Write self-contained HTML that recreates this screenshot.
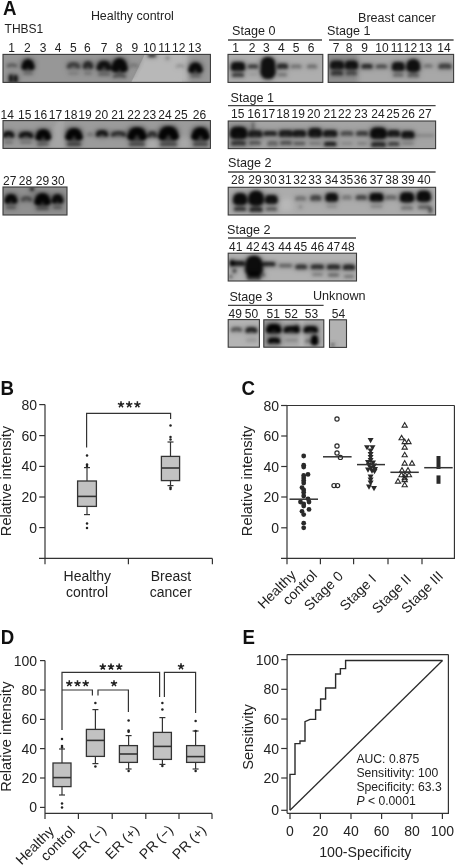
<!DOCTYPE html>
<html><head><meta charset="utf-8"><style>
html,body{margin:0;padding:0;background:#fff;width:455px;height:866px;overflow:hidden}
svg{display:block;font-family:"Liberation Sans",sans-serif;will-change:transform}
</style></head><body>
<svg width="455" height="866" viewBox="0 0 455 866">
<defs><filter id="blur" x="-50%" y="-50%" width="200%" height="200%"><feGaussianBlur stdDeviation="1.45"/></filter><filter id="blur2" x="-50%" y="-50%" width="200%" height="200%"><feGaussianBlur stdDeviation="2.5"/></filter><clipPath id="c1"><rect x="3" y="54.4" width="207.4" height="28.000000000000007"/></clipPath><clipPath id="c2"><rect x="3" y="120.6" width="207.4" height="27.80000000000001"/></clipPath><clipPath id="c3"><rect x="3" y="187" width="64" height="28"/></clipPath><clipPath id="c4"><rect x="228" y="54.4" width="94.80000000000001" height="28.000000000000007"/></clipPath><clipPath id="c5"><rect x="328.2" y="54.4" width="125.40000000000003" height="28.000000000000007"/></clipPath><clipPath id="c6"><rect x="228.2" y="121" width="207.40000000000003" height="27.599999999999994"/></clipPath><clipPath id="c7"><rect x="228.2" y="187.3" width="207.40000000000003" height="27.69999999999999"/></clipPath><clipPath id="c8"><rect x="228.2" y="253.2" width="128.3" height="27.80000000000001"/></clipPath><clipPath id="c9"><rect x="228.2" y="319.6" width="31.19999999999999" height="27.599999999999966"/></clipPath><clipPath id="c10"><rect x="263.8" y="319.8" width="60.0" height="27.399999999999977"/></clipPath><clipPath id="c11"><rect x="329.5" y="319.8" width="17.0" height="27.599999999999966"/></clipPath></defs>
<rect width="455" height="866" fill="#fff"/>
<text x="0" y="0" font-size="21" font-weight="bold" fill="#111" transform="translate(2.9 14.5) scale(0.89 1)">A</text>
<text x="90.9" y="20" font-size="12.45" text-anchor="start" font-weight="normal" font-style="normal" fill="#222" >Healthy control</text>
<text x="4.6" y="32.7" font-size="12" text-anchor="start" font-weight="normal" font-style="normal" fill="#222" >THBS1</text>
<text x="358" y="22" font-size="12.6" text-anchor="start" font-weight="normal" font-style="normal" fill="#222" >Breast cancer</text>
<text x="232" y="35.3" font-size="12.6" text-anchor="start" font-weight="normal" font-style="normal" fill="#222" >Stage 0</text>
<text x="327" y="35.3" font-size="12.6" text-anchor="start" font-weight="normal" font-style="normal" fill="#222" >Stage 1</text>
<text x="230.6" y="101.5" font-size="12.6" text-anchor="start" font-weight="normal" font-style="normal" fill="#222" >Stage 1</text>
<text x="228" y="167.3" font-size="12.6" text-anchor="start" font-weight="normal" font-style="normal" fill="#222" >Stage 2</text>
<text x="227" y="233.5" font-size="12.6" text-anchor="start" font-weight="normal" font-style="normal" fill="#222" >Stage 2</text>
<text x="229.4" y="300.5" font-size="12.6" text-anchor="start" font-weight="normal" font-style="normal" fill="#222" >Stage 3</text>
<text x="313" y="299.9" font-size="12.6" text-anchor="start" font-weight="normal" font-style="normal" fill="#222" >Unknown</text>
<line x1="228" y1="40" x2="322" y2="40" stroke="#444" stroke-width="1.3"/>
<line x1="329" y1="40" x2="453.6" y2="40" stroke="#444" stroke-width="1.3"/>
<line x1="228" y1="105.6" x2="435.6" y2="105.6" stroke="#444" stroke-width="1.3"/>
<line x1="228" y1="172" x2="435.6" y2="172" stroke="#444" stroke-width="1.3"/>
<line x1="228" y1="238" x2="356" y2="238" stroke="#444" stroke-width="1.3"/>
<line x1="228" y1="305.4" x2="323.6" y2="305.4" stroke="#444" stroke-width="1.3"/>
<text x="11.5" y="52.4" font-size="12" text-anchor="middle" font-weight="normal" font-style="normal" fill="#222" >1</text>
<text x="27.4" y="52.4" font-size="12" text-anchor="middle" font-weight="normal" font-style="normal" fill="#222" >2</text>
<text x="43.2" y="52.4" font-size="12" text-anchor="middle" font-weight="normal" font-style="normal" fill="#222" >3</text>
<text x="58" y="52.4" font-size="12" text-anchor="middle" font-weight="normal" font-style="normal" fill="#222" >4</text>
<text x="73.4" y="52.4" font-size="12" text-anchor="middle" font-weight="normal" font-style="normal" fill="#222" >5</text>
<text x="87.4" y="52.4" font-size="12" text-anchor="middle" font-weight="normal" font-style="normal" fill="#222" >6</text>
<text x="104" y="52.4" font-size="12" text-anchor="middle" font-weight="normal" font-style="normal" fill="#222" >7</text>
<text x="119.2" y="52.4" font-size="12" text-anchor="middle" font-weight="normal" font-style="normal" fill="#222" >8</text>
<text x="134.8" y="52.4" font-size="12" text-anchor="middle" font-weight="normal" font-style="normal" fill="#222" >9</text>
<text x="149.6" y="52.4" font-size="12" text-anchor="middle" font-weight="normal" font-style="normal" fill="#222" >10</text>
<text x="164.5" y="52.4" font-size="12" text-anchor="middle" font-weight="normal" font-style="normal" fill="#222" >11</text>
<text x="178.7" y="52.4" font-size="12" text-anchor="middle" font-weight="normal" font-style="normal" fill="#222" >12</text>
<text x="194.7" y="52.4" font-size="12" text-anchor="middle" font-weight="normal" font-style="normal" fill="#222" >13</text>
<text x="7.3" y="118.80000000000001" font-size="12" text-anchor="middle" font-weight="normal" font-style="normal" fill="#222" >14</text>
<text x="24.7" y="118.80000000000001" font-size="12" text-anchor="middle" font-weight="normal" font-style="normal" fill="#222" >15</text>
<text x="40.4" y="118.80000000000001" font-size="12" text-anchor="middle" font-weight="normal" font-style="normal" fill="#222" >16</text>
<text x="55.5" y="118.80000000000001" font-size="12" text-anchor="middle" font-weight="normal" font-style="normal" fill="#222" >17</text>
<text x="70.7" y="118.80000000000001" font-size="12" text-anchor="middle" font-weight="normal" font-style="normal" fill="#222" >18</text>
<text x="85" y="118.80000000000001" font-size="12" text-anchor="middle" font-weight="normal" font-style="normal" fill="#222" >19</text>
<text x="101.5" y="118.80000000000001" font-size="12" text-anchor="middle" font-weight="normal" font-style="normal" fill="#222" >20</text>
<text x="118" y="118.80000000000001" font-size="12" text-anchor="middle" font-weight="normal" font-style="normal" fill="#222" >21</text>
<text x="134" y="118.80000000000001" font-size="12" text-anchor="middle" font-weight="normal" font-style="normal" fill="#222" >22</text>
<text x="149.5" y="118.80000000000001" font-size="12" text-anchor="middle" font-weight="normal" font-style="normal" fill="#222" >23</text>
<text x="165" y="118.80000000000001" font-size="12" text-anchor="middle" font-weight="normal" font-style="normal" fill="#222" >24</text>
<text x="181" y="118.80000000000001" font-size="12" text-anchor="middle" font-weight="normal" font-style="normal" fill="#222" >25</text>
<text x="199.5" y="118.80000000000001" font-size="12" text-anchor="middle" font-weight="normal" font-style="normal" fill="#222" >26</text>
<text x="9.8" y="185.0" font-size="12" text-anchor="middle" font-weight="normal" font-style="normal" fill="#222" >27</text>
<text x="25.5" y="185.0" font-size="12" text-anchor="middle" font-weight="normal" font-style="normal" fill="#222" >28</text>
<text x="42.5" y="185.0" font-size="12" text-anchor="middle" font-weight="normal" font-style="normal" fill="#222" >29</text>
<text x="58" y="185.0" font-size="12" text-anchor="middle" font-weight="normal" font-style="normal" fill="#222" >30</text>
<text x="235.5" y="52.0" font-size="12" text-anchor="middle" font-weight="normal" font-style="normal" fill="#222" >1</text>
<text x="252" y="52.0" font-size="12" text-anchor="middle" font-weight="normal" font-style="normal" fill="#222" >2</text>
<text x="266.4" y="52.0" font-size="12" text-anchor="middle" font-weight="normal" font-style="normal" fill="#222" >3</text>
<text x="281.3" y="52.0" font-size="12" text-anchor="middle" font-weight="normal" font-style="normal" fill="#222" >4</text>
<text x="296.2" y="52.0" font-size="12" text-anchor="middle" font-weight="normal" font-style="normal" fill="#222" >5</text>
<text x="311" y="52.0" font-size="12" text-anchor="middle" font-weight="normal" font-style="normal" fill="#222" >6</text>
<text x="336" y="52.0" font-size="12" text-anchor="middle" font-weight="normal" font-style="normal" fill="#222" >7</text>
<text x="349.2" y="52.0" font-size="12" text-anchor="middle" font-weight="normal" font-style="normal" fill="#222" >8</text>
<text x="364.5" y="52.0" font-size="12" text-anchor="middle" font-weight="normal" font-style="normal" fill="#222" >9</text>
<text x="382" y="52.0" font-size="12" text-anchor="middle" font-weight="normal" font-style="normal" fill="#222" >10</text>
<text x="397" y="52.0" font-size="12" text-anchor="middle" font-weight="normal" font-style="normal" fill="#222" >11</text>
<text x="410.5" y="52.0" font-size="12" text-anchor="middle" font-weight="normal" font-style="normal" fill="#222" >12</text>
<text x="425.5" y="52.0" font-size="12" text-anchor="middle" font-weight="normal" font-style="normal" fill="#222" >13</text>
<text x="444" y="52.0" font-size="12" text-anchor="middle" font-weight="normal" font-style="normal" fill="#222" >14</text>
<text x="237.8" y="117.80000000000001" font-size="12" text-anchor="middle" font-weight="normal" font-style="normal" fill="#222" >15</text>
<text x="254" y="117.80000000000001" font-size="12" text-anchor="middle" font-weight="normal" font-style="normal" fill="#222" >16</text>
<text x="268.5" y="117.80000000000001" font-size="12" text-anchor="middle" font-weight="normal" font-style="normal" fill="#222" >17</text>
<text x="283" y="117.80000000000001" font-size="12" text-anchor="middle" font-weight="normal" font-style="normal" fill="#222" >18</text>
<text x="298.3" y="117.80000000000001" font-size="12" text-anchor="middle" font-weight="normal" font-style="normal" fill="#222" >19</text>
<text x="313.8" y="117.80000000000001" font-size="12" text-anchor="middle" font-weight="normal" font-style="normal" fill="#222" >20</text>
<text x="330.3" y="117.80000000000001" font-size="12" text-anchor="middle" font-weight="normal" font-style="normal" fill="#222" >21</text>
<text x="344.8" y="117.80000000000001" font-size="12" text-anchor="middle" font-weight="normal" font-style="normal" fill="#222" >22</text>
<text x="361" y="117.80000000000001" font-size="12" text-anchor="middle" font-weight="normal" font-style="normal" fill="#222" >23</text>
<text x="378" y="117.80000000000001" font-size="12" text-anchor="middle" font-weight="normal" font-style="normal" fill="#222" >24</text>
<text x="393" y="117.80000000000001" font-size="12" text-anchor="middle" font-weight="normal" font-style="normal" fill="#222" >25</text>
<text x="408.3" y="117.80000000000001" font-size="12" text-anchor="middle" font-weight="normal" font-style="normal" fill="#222" >26</text>
<text x="425" y="117.80000000000001" font-size="12" text-anchor="middle" font-weight="normal" font-style="normal" fill="#222" >27</text>
<text x="237.8" y="184.4" font-size="12" text-anchor="middle" font-weight="normal" font-style="normal" fill="#222" >28</text>
<text x="255" y="184.4" font-size="12" text-anchor="middle" font-weight="normal" font-style="normal" fill="#222" >29</text>
<text x="270" y="184.4" font-size="12" text-anchor="middle" font-weight="normal" font-style="normal" fill="#222" >30</text>
<text x="285" y="184.4" font-size="12" text-anchor="middle" font-weight="normal" font-style="normal" fill="#222" >31</text>
<text x="300" y="184.4" font-size="12" text-anchor="middle" font-weight="normal" font-style="normal" fill="#222" >32</text>
<text x="315" y="184.4" font-size="12" text-anchor="middle" font-weight="normal" font-style="normal" fill="#222" >33</text>
<text x="331.5" y="184.4" font-size="12" text-anchor="middle" font-weight="normal" font-style="normal" fill="#222" >34</text>
<text x="346.5" y="184.4" font-size="12" text-anchor="middle" font-weight="normal" font-style="normal" fill="#222" >35</text>
<text x="360.5" y="184.4" font-size="12" text-anchor="middle" font-weight="normal" font-style="normal" fill="#222" >36</text>
<text x="376.5" y="184.4" font-size="12" text-anchor="middle" font-weight="normal" font-style="normal" fill="#222" >37</text>
<text x="392" y="184.4" font-size="12" text-anchor="middle" font-weight="normal" font-style="normal" fill="#222" >38</text>
<text x="408" y="184.4" font-size="12" text-anchor="middle" font-weight="normal" font-style="normal" fill="#222" >39</text>
<text x="424" y="184.4" font-size="12" text-anchor="middle" font-weight="normal" font-style="normal" fill="#222" >40</text>
<text x="235.7" y="251.4" font-size="12" text-anchor="middle" font-weight="normal" font-style="normal" fill="#222" >41</text>
<text x="253" y="251.4" font-size="12" text-anchor="middle" font-weight="normal" font-style="normal" fill="#222" >42</text>
<text x="268" y="251.4" font-size="12" text-anchor="middle" font-weight="normal" font-style="normal" fill="#222" >43</text>
<text x="285" y="251.4" font-size="12" text-anchor="middle" font-weight="normal" font-style="normal" fill="#222" >44</text>
<text x="300.5" y="251.4" font-size="12" text-anchor="middle" font-weight="normal" font-style="normal" fill="#222" >45</text>
<text x="317.5" y="251.4" font-size="12" text-anchor="middle" font-weight="normal" font-style="normal" fill="#222" >46</text>
<text x="333.5" y="251.4" font-size="12" text-anchor="middle" font-weight="normal" font-style="normal" fill="#222" >47</text>
<text x="348" y="251.4" font-size="12" text-anchor="middle" font-weight="normal" font-style="normal" fill="#222" >48</text>
<text x="235.3" y="318.0" font-size="12" text-anchor="middle" font-weight="normal" font-style="normal" fill="#222" >49</text>
<text x="251.5" y="318.0" font-size="12" text-anchor="middle" font-weight="normal" font-style="normal" fill="#222" >50</text>
<text x="273.2" y="318.0" font-size="12" text-anchor="middle" font-weight="normal" font-style="normal" fill="#222" >51</text>
<text x="291.3" y="318.0" font-size="12" text-anchor="middle" font-weight="normal" font-style="normal" fill="#222" >52</text>
<text x="311.5" y="318.0" font-size="12" text-anchor="middle" font-weight="normal" font-style="normal" fill="#222" >53</text>
<text x="338.5" y="318.0" font-size="12" text-anchor="middle" font-weight="normal" font-style="normal" fill="#222" >54</text>
<rect x="3" y="54.4" width="207.4" height="28.000000000000007" fill="#979797"/>
<g clip-path="url(#c1)">
<polygon points="131,83 145.5,53 182,53 182,83" fill="#b8b8b8"/><rect x="178" y="53" width="10" height="30" fill="#b8b8b8" filter="url(#blur2)"/><line x1="133" y1="78" x2="143" y2="58" stroke="#888" stroke-width="2" opacity="0.5" filter="url(#blur)"/>
<g filter="url(#blur2)">
<rect x="5.2" y="62.2" width="13.6" height="6.5" rx="2.9" fill="#000" opacity="0.10"/>
<rect x="7.4" y="73.2" width="7.0" height="10.5" rx="3.1" fill="#000" opacity="0.30"/>
<rect x="12.2" y="73.7" width="7.0" height="10.0" rx="3.1" fill="#000" opacity="0.30"/>
<rect x="20.2" y="57.7" width="15.6" height="14.0" rx="6.3" fill="#000" opacity="0.30"/>
<rect x="21.2" y="70.7" width="13.6" height="5.5" rx="2.5" fill="#000" opacity="0.07"/>
<rect x="65.2" y="60.7" width="16.6" height="9.5" rx="4.3" fill="#000" opacity="0.15"/>
<rect x="66.2" y="70.7" width="14.6" height="5.5" rx="2.5" fill="#000" opacity="0.04"/>
<rect x="81.2" y="59.7" width="13.6" height="11.0" rx="5.0" fill="#000" opacity="0.19"/>
<rect x="82.2" y="70.7" width="11.6" height="5.5" rx="2.5" fill="#000" opacity="0.06"/>
<rect x="95.2" y="59.2" width="17.6" height="13.0" rx="5.9" fill="#000" opacity="0.27"/>
<rect x="96.2" y="71.2" width="15.6" height="6.0" rx="2.7" fill="#000" opacity="0.09"/>
<rect x="110.2" y="56.7" width="18.6" height="17.5" rx="7.9" fill="#000" opacity="0.30"/>
<rect x="111.2" y="72.7" width="16.6" height="6.5" rx="2.9" fill="#000" opacity="0.12"/>
<rect x="128.2" y="61.7" width="11.6" height="7.5" rx="3.4" fill="#000" opacity="0.04"/>
<rect x="146.2" y="52.7" width="11.6" height="5.5" rx="2.5" fill="#000" opacity="0.24"/>
<rect x="164.7" y="55.7" width="5.6" height="4.5" rx="2.0" fill="#000" opacity="0.18"/>
<rect x="174.2" y="62.7" width="11.6" height="6.5" rx="2.9" fill="#000" opacity="0.04"/>
<rect x="187.2" y="61.2" width="16.6" height="13.5" rx="6.1" fill="#000" opacity="0.30"/>
<rect x="188.2" y="73.2" width="14.6" height="5.5" rx="2.5" fill="#000" opacity="0.09"/>
</g>
<g filter="url(#blur)">
<rect x="7.0" y="63.5" width="10.0" height="4.0" rx="1.8" fill="#000" opacity="0.15"/>
<path d="M7.9,66.2 Q12.0,63.1 16.1,66.2" stroke="#000" stroke-width="2.2" fill="none" stroke-linecap="round" opacity="0.30"/>
<rect x="9.2" y="74.5" width="3.4" height="8.0" rx="1.5" fill="#000" opacity="0.85"/>
<rect x="14.0" y="75.0" width="3.4" height="7.5" rx="1.5" fill="#000" opacity="0.85"/>
<rect x="22.0" y="59.0" width="12.0" height="11.5" rx="5.2" fill="#000" opacity="0.42"/>
<path d="M24.5,66.8 Q28.0,57.9 31.5,66.8" stroke="#000" stroke-width="6.3" fill="none" stroke-linecap="round" opacity="0.85"/>
<rect x="23.0" y="72.0" width="10.0" height="3.0" rx="1.4" fill="#000" opacity="0.2125"/>
<rect x="67.0" y="62.0" width="13.0" height="7.0" rx="3.1" fill="#000" opacity="0.21"/>
<path d="M68.5,66.7 Q73.5,61.3 78.5,66.7" stroke="#000" stroke-width="3.9" fill="none" stroke-linecap="round" opacity="0.42"/>
<rect x="68.0" y="72.0" width="11.0" height="3.0" rx="1.4" fill="#000" opacity="0.1275"/>
<rect x="83.0" y="61.0" width="10.0" height="8.5" rx="3.8" fill="#000" opacity="0.28"/>
<path d="M84.9,66.7 Q88.0,60.1 91.1,66.7" stroke="#000" stroke-width="4.7" fill="none" stroke-linecap="round" opacity="0.55"/>
<rect x="84.0" y="72.0" width="8.0" height="3.0" rx="1.4" fill="#000" opacity="0.17"/>
<rect x="97.0" y="60.5" width="14.0" height="10.5" rx="4.7" fill="#000" opacity="0.38"/>
<path d="M99.3,67.6 Q104.0,59.5 108.7,67.6" stroke="#000" stroke-width="5.8" fill="none" stroke-linecap="round" opacity="0.77"/>
<rect x="98.0" y="72.5" width="12.0" height="3.5" rx="1.6" fill="#000" opacity="0.255"/>
<rect x="112.0" y="58.0" width="15.0" height="15.0" rx="6.8" fill="#000" opacity="0.42"/>
<path d="M115.3,68.1 Q119.5,56.5 123.7,68.1" stroke="#000" stroke-width="8.2" fill="none" stroke-linecap="round" opacity="0.85"/>
<rect x="113.0" y="74.0" width="13.0" height="4.0" rx="1.8" fill="#000" opacity="0.17"/>
<path d="M113.9,76.7 Q119.5,73.6 125.1,76.7" stroke="#000" stroke-width="2.2" fill="none" stroke-linecap="round" opacity="0.34"/>
<rect x="130.0" y="63.0" width="8.0" height="5.0" rx="2.2" fill="#000" opacity="0.06"/>
<path d="M131.1,66.4 Q134.0,62.5 136.9,66.4" stroke="#000" stroke-width="2.8" fill="none" stroke-linecap="round" opacity="0.13"/>
<rect x="148.0" y="54.0" width="8.0" height="3.0" rx="1.4" fill="#000" opacity="0.68"/>
<rect x="166.5" y="57.0" width="2.0" height="2.0" rx="0.9" fill="#000" opacity="0.51"/>
<rect x="176.0" y="64.0" width="8.0" height="4.0" rx="1.8" fill="#000" opacity="0.06"/>
<path d="M176.9,66.7 Q180.0,63.6 183.1,66.7" stroke="#000" stroke-width="2.2" fill="none" stroke-linecap="round" opacity="0.13"/>
<rect x="189.0" y="62.5" width="13.0" height="11.0" rx="5.0" fill="#000" opacity="0.42"/>
<path d="M191.4,69.9 Q195.5,61.4 199.6,69.9" stroke="#000" stroke-width="6.1" fill="none" stroke-linecap="round" opacity="0.85"/>
<rect x="190.0" y="74.5" width="11.0" height="3.0" rx="1.4" fill="#000" opacity="0.255"/>
</g></g>
<rect x="3" y="54.4" width="207.4" height="28.000000000000007" fill="none" stroke="#3a3a3a" stroke-width="1.1"/>
<rect x="3" y="120.6" width="207.4" height="27.80000000000001" fill="#9b9b9b"/>
<g clip-path="url(#c2)">
<polygon points="42,149 58,120 64,120 64,149" fill="#a6a6a6" filter="url(#blur)"/><rect x="146" y="138" width="12" height="12" fill="#acacac" filter="url(#blur2)"/><rect x="178" y="138" width="12" height="11" fill="#a8a8a8" filter="url(#blur2)"/>
<g filter="url(#blur2)">
<rect x="1.2" y="129.7" width="14.6" height="9.5" rx="4.3" fill="#000" opacity="0.27"/>
<rect x="17.2" y="130.2" width="17.6" height="9.5" rx="4.3" fill="#000" opacity="0.27"/>
<rect x="34.2" y="127.7" width="18.1" height="14.5" rx="6.5" fill="#000" opacity="0.32"/>
<rect x="64.2" y="126.7" width="19.6" height="15.5" rx="7.0" fill="#000" opacity="0.32"/>
<rect x="65.2" y="141.2" width="17.6" height="6.0" rx="2.7" fill="#000" opacity="0.18"/>
<rect x="85.2" y="130.7" width="9.6" height="7.5" rx="3.4" fill="#000" opacity="0.05"/>
<rect x="94.2" y="128.7" width="15.6" height="9.5" rx="4.3" fill="#000" opacity="0.26"/>
<rect x="109.2" y="129.7" width="18.6" height="8.5" rx="3.8" fill="#000" opacity="0.19"/>
<rect x="126.2" y="125.7" width="21.6" height="16.5" rx="7.4" fill="#000" opacity="0.32"/>
<rect x="127.2" y="141.2" width="19.6" height="6.0" rx="2.7" fill="#000" opacity="0.16"/>
<rect x="145.7" y="129.7" width="13.1" height="9.5" rx="4.3" fill="#000" opacity="0.18"/>
<rect x="157.2" y="124.7" width="22.6" height="17.5" rx="7.9" fill="#000" opacity="0.32"/>
<rect x="158.2" y="141.2" width="20.6" height="6.0" rx="2.7" fill="#000" opacity="0.16"/>
<rect x="190.2" y="125.7" width="20.6" height="16.5" rx="7.4" fill="#000" opacity="0.32"/>
<rect x="191.2" y="141.2" width="18.6" height="6.0" rx="2.7" fill="#000" opacity="0.16"/>
<rect x="2.2" y="139.7" width="12.6" height="5.5" rx="2.5" fill="#000" opacity="0.06"/>
<rect x="18.2" y="139.7" width="15.6" height="5.5" rx="2.5" fill="#000" opacity="0.06"/>
<rect x="35.2" y="141.2" width="15.6" height="6.0" rx="2.7" fill="#000" opacity="0.11"/>
</g>
<g filter="url(#blur)">
<rect x="3.0" y="131.0" width="11.0" height="7.0" rx="3.1" fill="#000" opacity="0.39"/>
<path d="M4.5,135.7 Q8.5,130.3 12.5,135.7" stroke="#000" stroke-width="3.9" fill="none" stroke-linecap="round" opacity="0.78"/>
<rect x="19.0" y="131.5" width="14.0" height="7.0" rx="3.1" fill="#000" opacity="0.39"/>
<path d="M20.5,136.2 Q26.0,130.8 31.5,136.2" stroke="#000" stroke-width="3.9" fill="none" stroke-linecap="round" opacity="0.78"/>
<rect x="36.0" y="129.0" width="14.5" height="12.0" rx="5.4" fill="#000" opacity="0.46"/>
<path d="M38.6,137.1 Q43.2,127.8 47.9,137.1" stroke="#000" stroke-width="6.6" fill="none" stroke-linecap="round" opacity="0.92"/>
<rect x="66.0" y="128.0" width="16.0" height="13.0" rx="5.9" fill="#000" opacity="0.46"/>
<path d="M68.9,136.8 Q74.0,126.7 79.1,136.8" stroke="#000" stroke-width="7.2" fill="none" stroke-linecap="round" opacity="0.92"/>
<rect x="67.0" y="142.5" width="14.0" height="3.5" rx="1.6" fill="#000" opacity="0.5060000000000001"/>
<rect x="87.0" y="132.0" width="6.0" height="5.0" rx="2.2" fill="#000" opacity="0.07"/>
<path d="M88.1,135.4 Q90.0,131.5 91.9,135.4" stroke="#000" stroke-width="2.8" fill="none" stroke-linecap="round" opacity="0.14"/>
<rect x="96.0" y="130.0" width="12.0" height="7.0" rx="3.1" fill="#000" opacity="0.37"/>
<path d="M97.5,134.7 Q102.0,129.3 106.5,134.7" stroke="#000" stroke-width="3.9" fill="none" stroke-linecap="round" opacity="0.74"/>
<rect x="111.0" y="131.0" width="15.0" height="6.0" rx="2.7" fill="#000" opacity="0.28"/>
<path d="M112.3,135.1 Q118.5,130.4 124.7,135.1" stroke="#000" stroke-width="3.3" fill="none" stroke-linecap="round" opacity="0.55"/>
<rect x="128.0" y="127.0" width="18.0" height="14.0" rx="6.3" fill="#000" opacity="0.46"/>
<path d="M131.1,136.4 Q137.0,125.6 142.9,136.4" stroke="#000" stroke-width="7.7" fill="none" stroke-linecap="round" opacity="0.92"/>
<rect x="129.0" y="142.5" width="16.0" height="3.5" rx="1.6" fill="#000" opacity="0.46"/>
<rect x="147.5" y="131.0" width="9.5" height="7.0" rx="3.1" fill="#000" opacity="0.25"/>
<path d="M149.0,135.7 Q152.2,130.3 155.5,135.7" stroke="#000" stroke-width="3.9" fill="none" stroke-linecap="round" opacity="0.51"/>
<rect x="159.0" y="126.0" width="19.0" height="15.0" rx="6.8" fill="#000" opacity="0.46"/>
<path d="M162.3,136.1 Q168.5,124.5 174.7,136.1" stroke="#000" stroke-width="8.2" fill="none" stroke-linecap="round" opacity="0.92"/>
<rect x="160.0" y="142.5" width="17.0" height="3.5" rx="1.6" fill="#000" opacity="0.46"/>
<rect x="192.0" y="127.0" width="17.0" height="14.0" rx="6.3" fill="#000" opacity="0.46"/>
<path d="M195.1,136.4 Q200.5,125.6 205.9,136.4" stroke="#000" stroke-width="7.7" fill="none" stroke-linecap="round" opacity="0.92"/>
<rect x="193.0" y="142.5" width="15.0" height="3.5" rx="1.6" fill="#000" opacity="0.46"/>
<rect x="4.0" y="141.0" width="9.0" height="3.0" rx="1.4" fill="#000" opacity="0.18400000000000002"/>
<rect x="20.0" y="141.0" width="12.0" height="3.0" rx="1.4" fill="#000" opacity="0.18400000000000002"/>
<rect x="37.0" y="142.5" width="12.0" height="3.5" rx="1.6" fill="#000" opacity="0.322"/>
</g></g>
<rect x="3" y="120.6" width="207.4" height="27.80000000000001" fill="none" stroke="#3a3a3a" stroke-width="1.1"/>
<rect x="3" y="187" width="64" height="28" fill="#909090"/>
<g clip-path="url(#c3)">
<g filter="url(#blur2)">
<rect x="3.2" y="192.7" width="15.6" height="12.5" rx="5.6" fill="#000" opacity="0.31"/>
<rect x="4.2" y="204.7" width="13.6" height="5.5" rx="2.5" fill="#000" opacity="0.11"/>
<rect x="19.2" y="194.7" width="14.6" height="8.5" rx="3.8" fill="#000" opacity="0.11"/>
<rect x="28.7" y="185.7" width="6.6" height="6.5" rx="2.9" fill="#000" opacity="0.29"/>
<rect x="33.2" y="191.7" width="18.6" height="15.5" rx="7.0" fill="#000" opacity="0.32"/>
<rect x="34.2" y="205.7" width="16.6" height="5.5" rx="2.5" fill="#000" opacity="0.13"/>
<rect x="50.2" y="192.7" width="14.6" height="12.5" rx="5.6" fill="#000" opacity="0.29"/>
<rect x="51.2" y="204.7" width="12.6" height="5.5" rx="2.5" fill="#000" opacity="0.11"/>
</g>
<g filter="url(#blur)">
<rect x="5.0" y="194.0" width="12.0" height="10.0" rx="4.5" fill="#000" opacity="0.48"/>
<path d="M7.2,200.8 Q11.0,193.0 14.8,200.8" stroke="#000" stroke-width="5.5" fill="none" stroke-linecap="round" opacity="0.87"/>
<rect x="6.0" y="206.0" width="10.0" height="3.0" rx="1.4" fill="#000" opacity="0.322"/>
<rect x="21.0" y="196.0" width="11.0" height="6.0" rx="2.7" fill="#000" opacity="0.18"/>
<path d="M22.3,200.1 Q26.5,195.4 30.7,200.1" stroke="#000" stroke-width="3.3" fill="none" stroke-linecap="round" opacity="0.32"/>
<rect x="30.5" y="187.0" width="3.0" height="4.0" rx="1.4" fill="#000" opacity="0.8280000000000001"/>
<rect x="35.0" y="193.0" width="15.0" height="13.0" rx="5.9" fill="#000" opacity="0.51"/>
<path d="M37.9,201.8 Q42.5,191.7 47.1,201.8" stroke="#000" stroke-width="7.2" fill="none" stroke-linecap="round" opacity="0.92"/>
<rect x="36.0" y="207.0" width="13.0" height="3.0" rx="1.4" fill="#000" opacity="0.36800000000000005"/>
<rect x="52.0" y="194.0" width="11.0" height="10.0" rx="4.5" fill="#000" opacity="0.46"/>
<path d="M54.2,200.8 Q57.5,193.0 60.8,200.8" stroke="#000" stroke-width="5.5" fill="none" stroke-linecap="round" opacity="0.83"/>
<rect x="53.0" y="206.0" width="9.0" height="3.0" rx="1.4" fill="#000" opacity="0.322"/>
</g></g>
<rect x="3" y="187" width="64" height="28" fill="none" stroke="#3a3a3a" stroke-width="1.1"/>
<rect x="228" y="54.4" width="94.80000000000001" height="28.000000000000007" fill="#aeaeae"/>
<g clip-path="url(#c4)">
<g filter="url(#blur2)">
<rect x="229.2" y="60.7" width="17.6" height="11.5" rx="5.2" fill="#000" opacity="0.31"/>
<rect x="230.2" y="71.7" width="15.6" height="6.5" rx="2.9" fill="#000" opacity="0.18"/>
<rect x="246.2" y="63.2" width="13.6" height="6.5" rx="2.9" fill="#000" opacity="0.20"/>
<rect x="247.2" y="71.7" width="11.6" height="5.5" rx="2.5" fill="#000" opacity="0.03"/>
<rect x="259.2" y="55.7" width="17.6" height="24.5" rx="7.9" fill="#000" opacity="0.31"/>
<rect x="275.2" y="62.2" width="14.6" height="8.0" rx="3.6" fill="#000" opacity="0.23"/>
<rect x="276.2" y="71.7" width="12.6" height="6.0" rx="2.7" fill="#000" opacity="0.09"/>
<rect x="289.2" y="63.2" width="14.1" height="6.5" rx="2.9" fill="#000" opacity="0.09"/>
<rect x="305.2" y="63.2" width="13.6" height="6.5" rx="2.9" fill="#000" opacity="0.09"/>
</g>
<g filter="url(#blur)">
<rect x="231.0" y="62.0" width="14.0" height="9.0" rx="4.0" fill="#000" opacity="0.79"/>
<path d="M233.0,68.1 Q238.0,61.1 243.0,68.1" stroke="#000" stroke-width="5.0" fill="none" stroke-linecap="round" opacity="0.40"/>
<rect x="232.0" y="73.0" width="12.0" height="4.0" rx="1.8" fill="#000" opacity="0.48"/>
<path d="M232.9,75.7 Q238.0,72.6 243.1,75.7" stroke="#000" stroke-width="2.2" fill="none" stroke-linecap="round" opacity="0.24"/>
<rect x="248.0" y="64.5" width="10.0" height="4.0" rx="1.8" fill="#000" opacity="0.51"/>
<path d="M248.9,67.2 Q253.0,64.1 257.1,67.2" stroke="#000" stroke-width="2.2" fill="none" stroke-linecap="round" opacity="0.26"/>
<rect x="249.0" y="73.0" width="8.0" height="3.0" rx="1.4" fill="#000" opacity="0.08800000000000001"/>
<rect x="261.0" y="57.0" width="14.0" height="22.0" rx="6.3" fill="#000" opacity="0.79"/>
<path d="M265.8,71.8 Q268.0,54.8 270.2,71.8" stroke="#000" stroke-width="12.1" fill="none" stroke-linecap="round" opacity="0.40"/>
<rect x="277.0" y="63.5" width="11.0" height="5.5" rx="2.5" fill="#000" opacity="0.59"/>
<path d="M278.2,67.2 Q282.5,63.0 286.8,67.2" stroke="#000" stroke-width="3.0" fill="none" stroke-linecap="round" opacity="0.30"/>
<rect x="278.0" y="73.0" width="9.0" height="3.5" rx="1.6" fill="#000" opacity="0.264"/>
<rect x="291.0" y="64.5" width="10.5" height="4.0" rx="1.8" fill="#000" opacity="0.22"/>
<path d="M291.9,67.2 Q296.2,64.1 300.6,67.2" stroke="#000" stroke-width="2.2" fill="none" stroke-linecap="round" opacity="0.11"/>
<rect x="307.0" y="64.5" width="10.0" height="4.0" rx="1.8" fill="#000" opacity="0.24"/>
<path d="M307.9,67.2 Q312.0,64.1 316.1,67.2" stroke="#000" stroke-width="2.2" fill="none" stroke-linecap="round" opacity="0.12"/>
</g></g>
<rect x="228" y="54.4" width="94.80000000000001" height="28.000000000000007" fill="none" stroke="#3a3a3a" stroke-width="1.1"/>
<rect x="328.2" y="54.4" width="125.40000000000003" height="28.000000000000007" fill="#a8a8a8"/>
<g clip-path="url(#c5)">
<rect x="322" y="50" width="36" height="36" fill="#7a7a7a" opacity="0.55" filter="url(#blur2)"/>
<g filter="url(#blur2)">
<rect x="328.2" y="59.4" width="17.6" height="11.3" rx="5.1" fill="#000" opacity="0.28"/>
<rect x="329.2" y="69.7" width="15.6" height="7.0" rx="3.2" fill="#000" opacity="0.18"/>
<rect x="343.2" y="59.4" width="16.6" height="11.3" rx="5.1" fill="#000" opacity="0.29"/>
<rect x="344.2" y="69.7" width="14.6" height="7.0" rx="3.2" fill="#000" opacity="0.12"/>
<rect x="359.7" y="62.7" width="14.6" height="7.2" rx="3.2" fill="#000" opacity="0.23"/>
<rect x="374.2" y="63.2" width="14.6" height="6.5" rx="2.9" fill="#000" opacity="0.15"/>
<rect x="390.2" y="60.7" width="16.1" height="11.5" rx="5.2" fill="#000" opacity="0.29"/>
<rect x="391.2" y="71.7" width="14.1" height="6.5" rx="2.9" fill="#000" opacity="0.09"/>
<rect x="404.7" y="58.0" width="17.1" height="15.5" rx="7.0" fill="#000" opacity="0.31"/>
<rect x="405.7" y="71.7" width="15.1" height="7.0" rx="3.2" fill="#000" opacity="0.11"/>
<rect x="422.2" y="62.7" width="12.1" height="6.5" rx="2.9" fill="#000" opacity="0.08"/>
<rect x="436.7" y="62.2" width="16.6" height="8.0" rx="3.6" fill="#000" opacity="0.17"/>
</g>
<g filter="url(#blur)">
<rect x="330.0" y="60.7" width="14.0" height="8.8" rx="4.0" fill="#000" opacity="0.73"/>
<path d="M331.9,66.6 Q337.0,59.8 342.1,66.6" stroke="#000" stroke-width="4.8" fill="none" stroke-linecap="round" opacity="0.36"/>
<rect x="331.0" y="71.0" width="12.0" height="4.5" rx="2.0" fill="#000" opacity="0.48"/>
<path d="M332.0,74.0 Q337.0,70.5 342.0,74.0" stroke="#000" stroke-width="2.5" fill="none" stroke-linecap="round" opacity="0.24"/>
<rect x="345.0" y="60.7" width="13.0" height="8.8" rx="4.0" fill="#000" opacity="0.75"/>
<path d="M346.9,66.6 Q351.5,59.8 356.1,66.6" stroke="#000" stroke-width="4.8" fill="none" stroke-linecap="round" opacity="0.38"/>
<rect x="346.0" y="71.0" width="11.0" height="4.5" rx="2.0" fill="#000" opacity="0.32"/>
<path d="M347.0,74.0 Q351.5,70.5 356.0,74.0" stroke="#000" stroke-width="2.5" fill="none" stroke-linecap="round" opacity="0.16"/>
<rect x="361.5" y="64.0" width="11.0" height="4.7" rx="2.1" fill="#000" opacity="0.59"/>
<path d="M362.5,67.2 Q367.0,63.5 371.5,67.2" stroke="#000" stroke-width="2.6" fill="none" stroke-linecap="round" opacity="0.30"/>
<rect x="376.0" y="64.5" width="11.0" height="4.0" rx="1.8" fill="#000" opacity="0.40"/>
<path d="M376.9,67.2 Q381.5,64.1 386.1,67.2" stroke="#000" stroke-width="2.2" fill="none" stroke-linecap="round" opacity="0.20"/>
<rect x="392.0" y="62.0" width="12.5" height="9.0" rx="4.0" fill="#000" opacity="0.75"/>
<path d="M394.0,68.1 Q398.2,61.1 402.5,68.1" stroke="#000" stroke-width="5.0" fill="none" stroke-linecap="round" opacity="0.38"/>
<rect x="393.0" y="73.0" width="10.5" height="4.0" rx="1.8" fill="#000" opacity="0.24"/>
<path d="M393.9,75.7 Q398.2,72.6 402.6,75.7" stroke="#000" stroke-width="2.2" fill="none" stroke-linecap="round" opacity="0.12"/>
<rect x="406.5" y="59.3" width="13.5" height="13.0" rx="5.9" fill="#000" opacity="0.79"/>
<path d="M409.4,68.1 Q413.2,58.0 417.1,68.1" stroke="#000" stroke-width="7.2" fill="none" stroke-linecap="round" opacity="0.40"/>
<rect x="407.5" y="73.0" width="11.5" height="4.5" rx="2.0" fill="#000" opacity="0.28"/>
<path d="M408.5,76.0 Q413.2,72.5 418.0,76.0" stroke="#000" stroke-width="2.5" fill="none" stroke-linecap="round" opacity="0.14"/>
<rect x="424.0" y="64.0" width="8.5" height="4.0" rx="1.8" fill="#000" opacity="0.20"/>
<path d="M424.9,66.7 Q428.2,63.6 431.6,66.7" stroke="#000" stroke-width="2.2" fill="none" stroke-linecap="round" opacity="0.10"/>
<rect x="438.5" y="63.5" width="13.0" height="5.5" rx="2.5" fill="#000" opacity="0.44"/>
<path d="M439.7,67.2 Q445.0,63.0 450.3,67.2" stroke="#000" stroke-width="3.0" fill="none" stroke-linecap="round" opacity="0.22"/>
</g></g>
<rect x="328.2" y="54.4" width="125.40000000000003" height="28.000000000000007" fill="none" stroke="#3a3a3a" stroke-width="1.1"/>
<rect x="228.2" y="121" width="207.40000000000003" height="27.599999999999994" fill="#a4a4a4"/>
<g clip-path="url(#c6)">
<rect x="226" y="119" width="26" height="32" fill="#8a8a8a" opacity="0.35" filter="url(#blur2)"/>
<g filter="url(#blur2)">
<rect x="228.4" y="125.4" width="20.5" height="14.8" rx="6.7" fill="#000" opacity="0.32"/>
<rect x="229.4" y="139.7" width="18.2" height="7.1" rx="3.2" fill="#000" opacity="0.19"/>
<rect x="246.4" y="129.0" width="17.7" height="9.8" rx="4.4" fill="#000" opacity="0.26"/>
<rect x="247.4" y="139.7" width="15.2" height="6.5" rx="2.9" fill="#000" opacity="0.13"/>
<rect x="250.2" y="120.7" width="5.6" height="10.5" rx="2.5" fill="#000" opacity="0.13"/>
<rect x="261.8" y="129.7" width="16.8" height="7.5" rx="3.4" fill="#000" opacity="0.24"/>
<rect x="265.4" y="139.7" width="14.2" height="7.5" rx="3.4" fill="#000" opacity="0.10"/>
<rect x="277.1" y="128.7" width="17.5" height="9.5" rx="4.3" fill="#000" opacity="0.26"/>
<rect x="278.4" y="139.7" width="15.2" height="6.5" rx="2.9" fill="#000" opacity="0.14"/>
<rect x="291.0" y="128.7" width="16.8" height="9.5" rx="4.3" fill="#000" opacity="0.27"/>
<rect x="291.9" y="140.7" width="15.2" height="5.5" rx="2.5" fill="#000" opacity="0.14"/>
<rect x="306.4" y="126.7" width="17.4" height="12.1" rx="5.5" fill="#000" opacity="0.29"/>
<rect x="307.4" y="140.7" width="15.2" height="5.5" rx="2.5" fill="#000" opacity="0.08"/>
<rect x="321.4" y="128.7" width="17.6" height="9.5" rx="4.3" fill="#000" opacity="0.27"/>
<rect x="322.4" y="140.7" width="15.7" height="6.5" rx="2.9" fill="#000" opacity="0.27"/>
<rect x="338.9" y="129.7" width="16.1" height="7.5" rx="3.4" fill="#000" opacity="0.14"/>
<rect x="339.4" y="140.7" width="15.2" height="5.5" rx="2.5" fill="#000" opacity="0.05"/>
<rect x="354.4" y="129.7" width="15.4" height="7.5" rx="3.4" fill="#000" opacity="0.18"/>
<rect x="355.4" y="140.7" width="13.2" height="5.5" rx="2.5" fill="#000" opacity="0.06"/>
<rect x="368.4" y="126.1" width="20.2" height="14.1" rx="6.4" fill="#000" opacity="0.32"/>
<rect x="369.4" y="140.7" width="18.2" height="7.5" rx="3.4" fill="#000" opacity="0.23"/>
<rect x="385.7" y="128.7" width="16.0" height="9.5" rx="4.3" fill="#000" opacity="0.27"/>
<rect x="386.4" y="140.7" width="14.7" height="6.5" rx="2.9" fill="#000" opacity="0.18"/>
<rect x="399.6" y="129.7" width="16.6" height="10.0" rx="4.5" fill="#000" opacity="0.29"/>
<rect x="400.4" y="140.7" width="15.2" height="5.5" rx="2.5" fill="#000" opacity="0.06"/>
<rect x="414.1" y="132.7" width="21.9" height="5.5" rx="2.5" fill="#000" opacity="0.05"/>
</g>
<g filter="url(#blur)">
<rect x="230.2" y="126.7" width="16.9" height="12.3" rx="5.5" fill="#000" opacity="0.83"/>
<path d="M232.9,135.0 Q238.7,125.5 244.4,135.0" stroke="#000" stroke-width="6.8" fill="none" stroke-linecap="round" opacity="0.41"/>
<rect x="231.2" y="141.0" width="14.6" height="4.6" rx="2.1" fill="#000" opacity="0.50"/>
<path d="M232.2,144.1 Q238.5,140.5 244.8,144.1" stroke="#000" stroke-width="2.5" fill="none" stroke-linecap="round" opacity="0.25"/>
<rect x="248.2" y="130.3" width="14.1" height="7.3" rx="3.3" fill="#000" opacity="0.66"/>
<path d="M249.8,135.2 Q255.2,129.6 260.7,135.2" stroke="#000" stroke-width="4.0" fill="none" stroke-linecap="round" opacity="0.33"/>
<rect x="249.2" y="141.0" width="11.6" height="4.0" rx="1.8" fill="#000" opacity="0.33"/>
<path d="M250.1,143.7 Q255.0,140.6 259.9,143.7" stroke="#000" stroke-width="2.2" fill="none" stroke-linecap="round" opacity="0.17"/>
<rect x="252.0" y="122.0" width="2.0" height="8.0" rx="0.9" fill="#000" opacity="0.36800000000000005"/>
<rect x="263.6" y="131.0" width="13.2" height="5.0" rx="2.2" fill="#000" opacity="0.62"/>
<path d="M264.7,134.4 Q270.2,130.5 275.7,134.4" stroke="#000" stroke-width="2.8" fill="none" stroke-linecap="round" opacity="0.31"/>
<rect x="267.2" y="141.0" width="10.6" height="5.0" rx="2.2" fill="#000" opacity="0.25"/>
<path d="M268.3,144.4 Q272.5,140.5 276.7,144.4" stroke="#000" stroke-width="2.8" fill="none" stroke-linecap="round" opacity="0.12"/>
<rect x="278.9" y="130.0" width="13.9" height="7.0" rx="3.1" fill="#000" opacity="0.66"/>
<path d="M280.4,134.7 Q285.9,129.3 291.3,134.7" stroke="#000" stroke-width="3.9" fill="none" stroke-linecap="round" opacity="0.33"/>
<rect x="280.2" y="141.0" width="11.6" height="4.0" rx="1.8" fill="#000" opacity="0.37"/>
<path d="M281.1,143.7 Q286.0,140.6 290.9,143.7" stroke="#000" stroke-width="2.2" fill="none" stroke-linecap="round" opacity="0.19"/>
<rect x="292.8" y="130.0" width="13.2" height="7.0" rx="3.1" fill="#000" opacity="0.70"/>
<path d="M294.3,134.7 Q299.4,129.3 304.5,134.7" stroke="#000" stroke-width="3.9" fill="none" stroke-linecap="round" opacity="0.35"/>
<rect x="293.7" y="142.0" width="11.6" height="3.0" rx="1.4" fill="#000" opacity="0.41400000000000003"/>
<rect x="308.2" y="128.0" width="13.8" height="9.6" rx="4.3" fill="#000" opacity="0.75"/>
<path d="M310.3,134.5 Q315.1,127.0 319.9,134.5" stroke="#000" stroke-width="5.3" fill="none" stroke-linecap="round" opacity="0.37"/>
<rect x="309.2" y="142.0" width="11.6" height="3.0" rx="1.4" fill="#000" opacity="0.23"/>
<rect x="323.2" y="130.0" width="14.0" height="7.0" rx="3.1" fill="#000" opacity="0.70"/>
<path d="M324.7,134.7 Q330.2,129.3 335.7,134.7" stroke="#000" stroke-width="3.9" fill="none" stroke-linecap="round" opacity="0.35"/>
<rect x="324.2" y="142.0" width="12.1" height="4.0" rx="1.8" fill="#000" opacity="0.70"/>
<path d="M325.1,144.7 Q330.2,141.6 335.4,144.7" stroke="#000" stroke-width="2.2" fill="none" stroke-linecap="round" opacity="0.35"/>
<rect x="340.7" y="131.0" width="12.5" height="5.0" rx="2.2" fill="#000" opacity="0.37"/>
<path d="M341.8,134.4 Q346.9,130.5 352.1,134.4" stroke="#000" stroke-width="2.8" fill="none" stroke-linecap="round" opacity="0.19"/>
<rect x="341.2" y="142.0" width="11.6" height="3.0" rx="1.4" fill="#000" opacity="0.138"/>
<rect x="356.2" y="131.0" width="11.8" height="5.0" rx="2.2" fill="#000" opacity="0.46"/>
<path d="M357.3,134.4 Q362.1,130.5 366.9,134.4" stroke="#000" stroke-width="2.8" fill="none" stroke-linecap="round" opacity="0.23"/>
<rect x="357.2" y="142.0" width="9.6" height="3.0" rx="1.4" fill="#000" opacity="0.18400000000000002"/>
<rect x="370.2" y="127.4" width="16.6" height="11.6" rx="5.2" fill="#000" opacity="0.83"/>
<path d="M372.8,135.2 Q378.5,126.2 384.2,135.2" stroke="#000" stroke-width="6.4" fill="none" stroke-linecap="round" opacity="0.41"/>
<rect x="371.2" y="142.0" width="14.6" height="5.0" rx="2.2" fill="#000" opacity="0.58"/>
<path d="M372.3,145.4 Q378.5,141.5 384.7,145.4" stroke="#000" stroke-width="2.8" fill="none" stroke-linecap="round" opacity="0.29"/>
<rect x="387.5" y="130.0" width="12.4" height="7.0" rx="3.1" fill="#000" opacity="0.70"/>
<path d="M389.0,134.7 Q393.7,129.3 398.4,134.7" stroke="#000" stroke-width="3.9" fill="none" stroke-linecap="round" opacity="0.35"/>
<rect x="388.2" y="142.0" width="11.1" height="4.0" rx="1.8" fill="#000" opacity="0.46"/>
<path d="M389.1,144.7 Q393.8,141.6 398.4,144.7" stroke="#000" stroke-width="2.2" fill="none" stroke-linecap="round" opacity="0.23"/>
<rect x="401.4" y="131.0" width="13.0" height="7.5" rx="3.4" fill="#000" opacity="0.75"/>
<path d="M403.0,136.1 Q407.9,130.2 412.8,136.1" stroke="#000" stroke-width="4.1" fill="none" stroke-linecap="round" opacity="0.37"/>
<rect x="402.2" y="142.0" width="11.6" height="3.0" rx="1.4" fill="#000" opacity="0.18400000000000002"/>
<rect x="415.9" y="134.0" width="18.3" height="3.0" rx="1.4" fill="#000" opacity="0.138"/>
</g></g>
<rect x="228.2" y="121" width="207.40000000000003" height="27.599999999999994" fill="none" stroke="#3a3a3a" stroke-width="1.1"/>
<rect x="228.2" y="187.3" width="207.40000000000003" height="27.69999999999999" fill="#acacac"/>
<g clip-path="url(#c7)">
<rect x="280" y="199" width="12" height="12" fill="#b8b8b8" filter="url(#blur2)"/>
<g filter="url(#blur2)">
<rect x="231.5" y="191.7" width="17.3" height="14.8" rx="6.7" fill="#000" opacity="0.32"/>
<rect x="232.2" y="205.7" width="15.6" height="6.5" rx="2.9" fill="#000" opacity="0.21"/>
<rect x="246.7" y="189.5" width="18.8" height="17.7" rx="8.0" fill="#000" opacity="0.32"/>
<rect x="247.7" y="205.7" width="16.6" height="7.5" rx="3.4" fill="#000" opacity="0.23"/>
<rect x="263.4" y="193.7" width="15.9" height="11.4" rx="5.1" fill="#000" opacity="0.31"/>
<rect x="264.2" y="205.7" width="14.6" height="6.5" rx="2.9" fill="#000" opacity="0.13"/>
<rect x="293.2" y="194.6" width="14.6" height="7.6" rx="3.4" fill="#000" opacity="0.08"/>
<rect x="297.7" y="204.7" width="5.6" height="4.5" rx="2.0" fill="#000" opacity="0.13"/>
<rect x="308.5" y="193.7" width="14.5" height="8.5" rx="3.8" fill="#000" opacity="0.16"/>
<rect x="323.7" y="191.7" width="16.0" height="11.2" rx="5.0" fill="#000" opacity="0.31"/>
<rect x="324.7" y="203.7" width="14.1" height="5.5" rx="2.5" fill="#000" opacity="0.05"/>
<rect x="340.4" y="193.7" width="13.0" height="7.5" rx="3.4" fill="#000" opacity="0.07"/>
<rect x="354.0" y="193.7" width="14.5" height="7.5" rx="3.4" fill="#000" opacity="0.16"/>
<rect x="367.8" y="191.7" width="17.4" height="11.0" rx="5.0" fill="#000" opacity="0.32"/>
<rect x="368.7" y="203.7" width="15.6" height="5.5" rx="2.5" fill="#000" opacity="0.06"/>
<rect x="383.7" y="193.7" width="14.5" height="7.5" rx="3.4" fill="#000" opacity="0.10"/>
<rect x="398.2" y="191.0" width="17.6" height="12.6" rx="5.7" fill="#000" opacity="0.32"/>
<rect x="399.2" y="204.7" width="15.6" height="6.5" rx="2.9" fill="#000" opacity="0.08"/>
<rect x="415.0" y="189.5" width="17.6" height="13.7" rx="6.2" fill="#000" opacity="0.32"/>
<rect x="416.2" y="204.2" width="15.6" height="6.0" rx="2.7" fill="#000" opacity="0.13"/>
<rect x="427.2" y="205.7" width="6.1" height="8.5" rx="2.7" fill="#000" opacity="0.19"/>
</g>
<g filter="url(#blur)">
<rect x="233.3" y="193.0" width="13.7" height="12.3" rx="5.5" fill="#000" opacity="0.83"/>
<path d="M236.0,201.3 Q240.2,191.8 244.3,201.3" stroke="#000" stroke-width="6.8" fill="none" stroke-linecap="round" opacity="0.41"/>
<rect x="234.0" y="207.0" width="12.0" height="4.0" rx="1.8" fill="#000" opacity="0.54"/>
<path d="M234.9,209.7 Q240.0,206.6 245.1,209.7" stroke="#000" stroke-width="2.2" fill="none" stroke-linecap="round" opacity="0.27"/>
<rect x="248.5" y="190.8" width="15.2" height="15.2" rx="6.8" fill="#000" opacity="0.83"/>
<path d="M251.8,201.1 Q256.1,189.3 260.4,201.1" stroke="#000" stroke-width="8.4" fill="none" stroke-linecap="round" opacity="0.41"/>
<rect x="249.5" y="207.0" width="13.0" height="5.0" rx="2.2" fill="#000" opacity="0.58"/>
<path d="M250.6,210.4 Q256.0,206.5 261.4,210.4" stroke="#000" stroke-width="2.8" fill="none" stroke-linecap="round" opacity="0.29"/>
<rect x="265.2" y="195.0" width="12.3" height="8.9" rx="4.0" fill="#000" opacity="0.79"/>
<path d="M267.2,201.0 Q271.4,194.1 275.5,201.0" stroke="#000" stroke-width="4.9" fill="none" stroke-linecap="round" opacity="0.39"/>
<rect x="266.0" y="207.0" width="11.0" height="4.0" rx="1.8" fill="#000" opacity="0.33"/>
<path d="M266.9,209.7 Q271.5,206.6 276.1,209.7" stroke="#000" stroke-width="2.2" fill="none" stroke-linecap="round" opacity="0.17"/>
<rect x="295.0" y="195.9" width="11.0" height="5.1" rx="2.3" fill="#000" opacity="0.21"/>
<path d="M296.1,199.3 Q300.5,195.4 304.9,199.3" stroke="#000" stroke-width="2.8" fill="none" stroke-linecap="round" opacity="0.10"/>
<rect x="299.5" y="206.0" width="2.0" height="2.0" rx="0.9" fill="#000" opacity="0.36800000000000005"/>
<rect x="310.3" y="195.0" width="10.9" height="6.0" rx="2.7" fill="#000" opacity="0.41"/>
<path d="M311.6,199.1 Q315.8,194.4 319.9,199.1" stroke="#000" stroke-width="3.3" fill="none" stroke-linecap="round" opacity="0.21"/>
<rect x="325.5" y="193.0" width="12.4" height="8.7" rx="3.9" fill="#000" opacity="0.79"/>
<path d="M327.4,198.9 Q331.7,192.1 336.0,198.9" stroke="#000" stroke-width="4.8" fill="none" stroke-linecap="round" opacity="0.39"/>
<rect x="326.5" y="205.0" width="10.5" height="3.0" rx="1.4" fill="#000" opacity="0.138"/>
<rect x="342.2" y="195.0" width="9.4" height="5.0" rx="2.2" fill="#000" opacity="0.18"/>
<path d="M343.3,198.4 Q346.9,194.5 350.5,198.4" stroke="#000" stroke-width="2.8" fill="none" stroke-linecap="round" opacity="0.09"/>
<rect x="355.8" y="195.0" width="10.9" height="5.0" rx="2.2" fill="#000" opacity="0.41"/>
<path d="M356.9,198.4 Q361.2,194.5 365.6,198.4" stroke="#000" stroke-width="2.8" fill="none" stroke-linecap="round" opacity="0.21"/>
<rect x="369.6" y="193.0" width="13.8" height="8.5" rx="3.8" fill="#000" opacity="0.83"/>
<path d="M371.5,198.7 Q376.5,192.2 381.5,198.7" stroke="#000" stroke-width="4.7" fill="none" stroke-linecap="round" opacity="0.41"/>
<rect x="370.5" y="205.0" width="12.0" height="3.0" rx="1.4" fill="#000" opacity="0.18400000000000002"/>
<rect x="385.5" y="195.0" width="10.9" height="5.0" rx="2.2" fill="#000" opacity="0.25"/>
<path d="M386.6,198.4 Q390.9,194.5 395.3,198.4" stroke="#000" stroke-width="2.8" fill="none" stroke-linecap="round" opacity="0.12"/>
<rect x="400.0" y="192.3" width="14.0" height="10.1" rx="4.5" fill="#000" opacity="0.83"/>
<path d="M402.2,199.1 Q407.0,191.3 411.8,199.1" stroke="#000" stroke-width="5.6" fill="none" stroke-linecap="round" opacity="0.41"/>
<rect x="401.0" y="206.0" width="12.0" height="4.0" rx="1.8" fill="#000" opacity="0.21"/>
<path d="M401.9,208.7 Q407.0,205.6 412.1,208.7" stroke="#000" stroke-width="2.2" fill="none" stroke-linecap="round" opacity="0.10"/>
<rect x="416.8" y="190.8" width="14.0" height="11.2" rx="5.0" fill="#000" opacity="0.83"/>
<path d="M419.3,198.4 Q423.8,189.7 428.3,198.4" stroke="#000" stroke-width="6.2" fill="none" stroke-linecap="round" opacity="0.41"/>
<rect x="418.0" y="205.5" width="12.0" height="3.5" rx="1.6" fill="#000" opacity="0.36800000000000005"/>
<rect x="429.0" y="207.0" width="2.5" height="6.0" rx="1.1" fill="#000" opacity="0.552"/>
</g></g>
<rect x="228.2" y="187.3" width="207.40000000000003" height="27.69999999999999" fill="none" stroke="#3a3a3a" stroke-width="1.1"/>
<rect x="228.2" y="253.2" width="128.3" height="27.80000000000001" fill="#b2b2b2"/>
<g clip-path="url(#c8)">
<g filter="url(#blur2)">
<rect x="228.6" y="259.6" width="18.2" height="7.6" rx="3.4" fill="#000" opacity="0.27"/>
<rect x="228.2" y="258.7" width="7.6" height="8.5" rx="3.4" fill="#000" opacity="0.29"/>
<rect x="231.2" y="268.2" width="6.6" height="5.5" rx="2.5" fill="#000" opacity="0.27"/>
<rect x="227.7" y="274.2" width="6.1" height="5.0" rx="2.3" fill="#000" opacity="0.19"/>
<rect x="243.8" y="254.5" width="20.3" height="23.5" rx="9.1" fill="#000" opacity="0.32"/>
<rect x="245.2" y="270.7" width="17.6" height="10.5" rx="4.7" fill="#000" opacity="0.19"/>
<rect x="260.2" y="260.7" width="16.9" height="6.7" rx="3.0" fill="#000" opacity="0.26"/>
<rect x="260.2" y="272.2" width="6.6" height="5.5" rx="2.5" fill="#000" opacity="0.16"/>
<rect x="277.2" y="262.5" width="16.6" height="6.1" rx="2.8" fill="#000" opacity="0.13"/>
<rect x="293.6" y="263.3" width="15.2" height="7.1" rx="3.2" fill="#000" opacity="0.21"/>
<rect x="309.0" y="263.1" width="16.6" height="7.3" rx="3.3" fill="#000" opacity="0.23"/>
<rect x="310.2" y="271.7" width="14.6" height="5.5" rx="2.5" fill="#000" opacity="0.08"/>
<rect x="325.2" y="263.1" width="16.6" height="7.5" rx="3.4" fill="#000" opacity="0.24"/>
<rect x="326.2" y="272.2" width="14.6" height="5.5" rx="2.5" fill="#000" opacity="0.13"/>
<rect x="341.2" y="263.1" width="15.6" height="8.1" rx="3.7" fill="#000" opacity="0.24"/>
<rect x="342.2" y="273.7" width="13.6" height="5.5" rx="2.5" fill="#000" opacity="0.10"/>
</g>
<g filter="url(#blur)">
<rect x="230.4" y="260.9" width="14.6" height="5.1" rx="2.3" fill="#000" opacity="0.70"/>
<path d="M231.5,264.3 Q237.7,260.4 243.9,264.3" stroke="#000" stroke-width="2.8" fill="none" stroke-linecap="round" opacity="0.35"/>
<rect x="230.0" y="260.0" width="4.0" height="6.0" rx="1.8" fill="#000" opacity="0.8280000000000001"/>
<rect x="233.0" y="269.5" width="3.0" height="3.0" rx="1.4" fill="#000" opacity="0.782"/>
<rect x="229.5" y="275.5" width="2.5" height="2.5" rx="1.1" fill="#000" opacity="0.552"/>
<rect x="245.6" y="255.8" width="16.7" height="21.0" rx="7.5" fill="#000" opacity="0.83"/>
<path d="M250.2,270.0 Q253.9,253.7 257.7,270.0" stroke="#000" stroke-width="11.6" fill="none" stroke-linecap="round" opacity="0.41"/>
<rect x="247.0" y="272.0" width="14.0" height="8.0" rx="3.6" fill="#000" opacity="0.50"/>
<path d="M248.8,277.4 Q254.0,271.2 259.2,277.4" stroke="#000" stroke-width="4.4" fill="none" stroke-linecap="round" opacity="0.25"/>
<rect x="262.0" y="262.0" width="13.3" height="4.2" rx="1.9" fill="#000" opacity="0.66"/>
<path d="M262.9,264.8 Q268.6,261.6 274.4,264.8" stroke="#000" stroke-width="2.3" fill="none" stroke-linecap="round" opacity="0.33"/>
<rect x="262.0" y="273.5" width="3.0" height="3.0" rx="1.4" fill="#000" opacity="0.46"/>
<rect x="279.0" y="263.8" width="13.0" height="3.6" rx="1.6" fill="#000" opacity="0.36800000000000005"/>
<rect x="295.4" y="264.6" width="11.6" height="4.6" rx="2.1" fill="#000" opacity="0.54"/>
<path d="M296.4,267.7 Q301.2,264.1 306.0,267.7" stroke="#000" stroke-width="2.5" fill="none" stroke-linecap="round" opacity="0.27"/>
<rect x="310.8" y="264.4" width="13.0" height="4.8" rx="2.2" fill="#000" opacity="0.58"/>
<path d="M311.9,267.6 Q317.3,263.9 322.7,267.6" stroke="#000" stroke-width="2.6" fill="none" stroke-linecap="round" opacity="0.29"/>
<rect x="312.0" y="273.0" width="11.0" height="3.0" rx="1.4" fill="#000" opacity="0.23"/>
<rect x="327.0" y="264.4" width="13.0" height="5.0" rx="2.2" fill="#000" opacity="0.62"/>
<path d="M328.1,267.8 Q333.5,263.9 338.9,267.8" stroke="#000" stroke-width="2.8" fill="none" stroke-linecap="round" opacity="0.31"/>
<rect x="328.0" y="273.5" width="11.0" height="3.0" rx="1.4" fill="#000" opacity="0.36800000000000005"/>
<rect x="343.0" y="264.4" width="12.0" height="5.6" rx="2.5" fill="#000" opacity="0.62"/>
<path d="M344.2,268.2 Q349.0,263.8 353.8,268.2" stroke="#000" stroke-width="3.1" fill="none" stroke-linecap="round" opacity="0.31"/>
<rect x="344.0" y="275.0" width="10.0" height="3.0" rx="1.4" fill="#000" opacity="0.276"/>
</g></g>
<rect x="228.2" y="253.2" width="128.3" height="27.80000000000001" fill="none" stroke="#3a3a3a" stroke-width="1.1"/>
<rect x="228.2" y="319.6" width="31.19999999999999" height="27.599999999999966" fill="#b4b4b4"/>
<g clip-path="url(#c9)">
<g filter="url(#blur2)">
<rect x="229.2" y="325.7" width="14.6" height="7.5" rx="3.4" fill="#000" opacity="0.11"/>
<rect x="243.8" y="325.7" width="15.2" height="8.5" rx="3.8" fill="#000" opacity="0.21"/>
<rect x="244.2" y="337.2" width="14.6" height="6.0" rx="2.7" fill="#000" opacity="0.04"/>
</g>
<g filter="url(#blur)">
<rect x="231.0" y="327.0" width="11.0" height="5.0" rx="2.2" fill="#000" opacity="0.26"/>
<path d="M232.1,330.4 Q236.5,326.5 240.9,330.4" stroke="#000" stroke-width="2.8" fill="none" stroke-linecap="round" opacity="0.32"/>
<rect x="245.6" y="327.0" width="11.6" height="6.0" rx="2.7" fill="#000" opacity="0.48"/>
<path d="M246.9,331.1 Q251.4,326.4 255.9,331.1" stroke="#000" stroke-width="3.3" fill="none" stroke-linecap="round" opacity="0.60"/>
<rect x="246.0" y="338.5" width="11.0" height="3.5" rx="1.6" fill="#000" opacity="0.1104"/>
</g></g>
<rect x="228.2" y="319.6" width="31.19999999999999" height="27.599999999999966" fill="none" stroke="#3a3a3a" stroke-width="1.1"/>
<rect x="263.8" y="319.8" width="60.0" height="27.399999999999977" fill="#ababab"/>
<g clip-path="url(#c10)">
<rect x="258" y="318" width="22" height="32" fill="#7a7a7a" opacity="0.4" filter="url(#blur2)"/><rect x="299.5" y="320" width="4" height="27" fill="#bababa" filter="url(#blur)"/>
<g filter="url(#blur2)">
<rect x="264.8" y="322.7" width="18.0" height="11.9" rx="5.4" fill="#000" opacity="0.32"/>
<rect x="266.2" y="336.5" width="15.6" height="8.3" rx="3.7" fill="#000" opacity="0.31"/>
<rect x="282.0" y="324.7" width="19.0" height="9.5" rx="4.3" fill="#000" opacity="0.27"/>
<rect x="292.2" y="323.7" width="9.1" height="9.5" rx="4.1" fill="#000" opacity="0.19"/>
<rect x="283.2" y="337.7" width="16.6" height="5.0" rx="2.3" fill="#000" opacity="0.06"/>
<rect x="302.0" y="324.7" width="17.5" height="9.5" rx="4.3" fill="#000" opacity="0.29"/>
<rect x="309.7" y="333.9" width="9.8" height="12.5" rx="4.4" fill="#000" opacity="0.32"/>
<rect x="303.2" y="337.7" width="9.6" height="6.5" rx="2.9" fill="#000" opacity="0.06"/>
</g>
<g filter="url(#blur)">
<rect x="266.6" y="324.0" width="14.4" height="9.4" rx="4.2" fill="#000" opacity="0.74"/>
<path d="M268.7,330.3 Q273.8,323.1 278.9,330.3" stroke="#000" stroke-width="5.2" fill="none" stroke-linecap="round" opacity="0.92"/>
<rect x="268.0" y="337.8" width="12.0" height="5.8" rx="2.6" fill="#000" opacity="0.70"/>
<path d="M269.3,341.7 Q274.0,337.2 278.7,341.7" stroke="#000" stroke-width="3.2" fill="none" stroke-linecap="round" opacity="0.87"/>
<rect x="283.8" y="326.0" width="15.4" height="7.0" rx="3.1" fill="#000" opacity="0.63"/>
<path d="M285.3,330.7 Q291.5,325.3 297.7,330.7" stroke="#000" stroke-width="3.9" fill="none" stroke-linecap="round" opacity="0.78"/>
<rect x="294.0" y="325.0" width="5.5" height="7.0" rx="2.5" fill="#000" opacity="0.552"/>
<rect x="285.0" y="339.0" width="13.0" height="2.5" rx="1.1" fill="#000" opacity="0.18400000000000002"/>
<rect x="303.8" y="326.0" width="13.9" height="7.0" rx="3.1" fill="#000" opacity="0.66"/>
<path d="M305.3,330.7 Q310.8,325.3 316.2,330.7" stroke="#000" stroke-width="3.9" fill="none" stroke-linecap="round" opacity="0.83"/>
<rect x="311.5" y="335.2" width="6.2" height="10.0" rx="2.8" fill="#000" opacity="0.74"/>
<path d="M313.7,341.9 Q314.6,334.2 315.5,341.9" stroke="#000" stroke-width="5.5" fill="none" stroke-linecap="round" opacity="0.92"/>
<rect x="305.0" y="339.0" width="6.0" height="4.0" rx="1.8" fill="#000" opacity="0.15"/>
<path d="M305.9,341.7 Q308.0,338.6 310.1,341.7" stroke="#000" stroke-width="2.2" fill="none" stroke-linecap="round" opacity="0.18"/>
</g></g>
<rect x="263.8" y="319.8" width="60.0" height="27.399999999999977" fill="none" stroke="#3a3a3a" stroke-width="1.1"/>
<rect x="329.5" y="319.8" width="17.0" height="27.599999999999966" fill="#b2b2b2"/>
<g clip-path="url(#c11)">
<g filter="url(#blur2)">
<rect x="329.7" y="342.2" width="6.1" height="5.0" rx="2.3" fill="#000" opacity="0.19"/>
</g>
<g filter="url(#blur)">
<rect x="331.5" y="343.5" width="2.5" height="2.5" rx="1.1" fill="#000" opacity="0.552"/>
</g></g>
<rect x="329.5" y="319.8" width="17.0" height="27.599999999999966" fill="none" stroke="#3a3a3a" stroke-width="1.1"/>
<text x="0" y="0" font-size="21" font-weight="bold" fill="#111" transform="translate(0.6 395.1) scale(0.89 1)">B</text>
<line x1="45.0" y1="404.6" x2="45.0" y2="564.2" stroke="#333" stroke-width="1.2"/>
<line x1="39.2" y1="404.6" x2="45" y2="404.6" stroke="#333" stroke-width="1.2"/>
<line x1="39.2" y1="435.6" x2="45" y2="435.6" stroke="#333" stroke-width="1.2"/>
<line x1="39.2" y1="466.4" x2="45" y2="466.4" stroke="#333" stroke-width="1.2"/>
<line x1="39.2" y1="497" x2="45" y2="497" stroke="#333" stroke-width="1.2"/>
<line x1="39.2" y1="527.6" x2="45" y2="527.6" stroke="#333" stroke-width="1.2"/>
<text x="37.0" y="409.6" font-size="14" text-anchor="end" font-weight="normal" font-style="normal" fill="#222" >80</text>
<text x="37.0" y="440.6" font-size="14" text-anchor="end" font-weight="normal" font-style="normal" fill="#222" >60</text>
<text x="37.0" y="471.4" font-size="14" text-anchor="end" font-weight="normal" font-style="normal" fill="#222" >40</text>
<text x="37.0" y="502.0" font-size="14" text-anchor="end" font-weight="normal" font-style="normal" fill="#222" >20</text>
<text x="37.0" y="532.6" font-size="14" text-anchor="end" font-weight="normal" font-style="normal" fill="#222" >0</text>
<line x1="39" y1="558.4" x2="212.4" y2="558.4" stroke="#333" stroke-width="1.2"/>
<line x1="128.4" y1="558.4" x2="128.4" y2="564.2" stroke="#333" stroke-width="1.2"/>
<line x1="212.4" y1="558.4" x2="212.4" y2="564.2" stroke="#333" stroke-width="1.2"/>
<text transform="translate(10.6 481) rotate(-90)" font-size="14.6" text-anchor="middle" fill="#222">Relative intensity</text>
<text x="87.3" y="581" font-size="14" text-anchor="middle" font-weight="normal" font-style="normal" fill="#222" >Healthy</text>
<text x="87" y="597" font-size="14" text-anchor="middle" font-weight="normal" font-style="normal" fill="#222" >control</text>
<text x="171" y="581" font-size="14" text-anchor="middle" font-weight="normal" font-style="normal" fill="#222" >Breast</text>
<text x="170.8" y="597" font-size="14" text-anchor="middle" font-weight="normal" font-style="normal" fill="#222" >cancer</text>
<line x1="87" y1="467.6" x2="87" y2="481" stroke="#333" stroke-width="1.2"/>
<line x1="87" y1="506.4" x2="87" y2="514.6" stroke="#333" stroke-width="1.2"/>
<line x1="84" y1="467.6" x2="90" y2="467.6" stroke="#333" stroke-width="1.2"/>
<line x1="84" y1="514.6" x2="90" y2="514.6" stroke="#333" stroke-width="1.2"/>
<rect x="77.6" y="481" width="18.80000000000001" height="25.399999999999977" fill="#c2c2c2" stroke="#333" stroke-width="1.3"/>
<line x1="77.6" y1="496.4" x2="96.4" y2="496.4" stroke="#333" stroke-width="1.6"/>
<circle cx="87" cy="464.5" r="1.25" fill="#222"/>
<circle cx="87" cy="466" r="1.25" fill="#222"/>
<circle cx="87" cy="455.6" r="1.25" fill="#222"/>
<circle cx="87" cy="523.6" r="1.25" fill="#222"/>
<circle cx="87" cy="528" r="1.25" fill="#222"/>
<line x1="170.5" y1="442" x2="170.5" y2="456.4" stroke="#333" stroke-width="1.2"/>
<line x1="170.5" y1="480.6" x2="170.5" y2="485.6" stroke="#333" stroke-width="1.2"/>
<line x1="167.5" y1="442" x2="173.5" y2="442" stroke="#333" stroke-width="1.2"/>
<line x1="167.5" y1="485.6" x2="173.5" y2="485.6" stroke="#333" stroke-width="1.2"/>
<rect x="161.4" y="456.4" width="18.19999999999999" height="24.200000000000045" fill="#c2c2c2" stroke="#333" stroke-width="1.3"/>
<line x1="161.4" y1="468" x2="179.6" y2="468" stroke="#333" stroke-width="1.6"/>
<circle cx="170.5" cy="437" r="1.25" fill="#222"/>
<circle cx="170.5" cy="439.5" r="1.25" fill="#222"/>
<circle cx="170.5" cy="425.6" r="1.25" fill="#222"/>
<circle cx="170.5" cy="487.5" r="1.25" fill="#222"/>
<circle cx="170.5" cy="489" r="1.25" fill="#222"/>
<polyline points="86.6,447.6 86.6,413.4 170.6,413.4 170.6,419" fill="none" stroke="#333" stroke-width="1.2" stroke-linejoin="miter"/>
<path d="M121.00,404.60L121.00,401.30M121.00,404.60L124.14,403.58M121.00,404.60L122.94,407.27M121.00,404.60L119.06,407.27M121.00,404.60L117.86,403.58" stroke="#222" stroke-width="1.5" fill="none" stroke-linecap="butt"/>
<path d="M129.20,404.60L129.20,401.30M129.20,404.60L132.34,403.58M129.20,404.60L131.14,407.27M129.20,404.60L127.26,407.27M129.20,404.60L126.06,403.58" stroke="#222" stroke-width="1.5" fill="none" stroke-linecap="butt"/>
<path d="M137.40,404.60L137.40,401.30M137.40,404.60L140.54,403.58M137.40,404.60L139.34,407.27M137.40,404.60L135.46,407.27M137.40,404.60L134.26,403.58" stroke="#222" stroke-width="1.5" fill="none" stroke-linecap="butt"/>
<text x="0" y="0" font-size="21" font-weight="bold" fill="#111" transform="translate(241.6 395.3) scale(0.89 1)">C</text>
<line x1="287.0" y1="405.5" x2="287.0" y2="564.2" stroke="#333" stroke-width="1.2"/>
<line x1="281.2" y1="405.5" x2="287" y2="405.5" stroke="#333" stroke-width="1.2"/>
<line x1="281.2" y1="436" x2="287" y2="436" stroke="#333" stroke-width="1.2"/>
<line x1="281.2" y1="466.5" x2="287" y2="466.5" stroke="#333" stroke-width="1.2"/>
<line x1="281.2" y1="497" x2="287" y2="497" stroke="#333" stroke-width="1.2"/>
<line x1="281.2" y1="527.8" x2="287" y2="527.8" stroke="#333" stroke-width="1.2"/>
<text x="279" y="410.5" font-size="14" text-anchor="end" font-weight="normal" font-style="normal" fill="#222" >80</text>
<text x="279" y="441.0" font-size="14" text-anchor="end" font-weight="normal" font-style="normal" fill="#222" >60</text>
<text x="279" y="471.5" font-size="14" text-anchor="end" font-weight="normal" font-style="normal" fill="#222" >40</text>
<text x="279" y="502.0" font-size="14" text-anchor="end" font-weight="normal" font-style="normal" fill="#222" >20</text>
<text x="279" y="532.8" font-size="14" text-anchor="end" font-weight="normal" font-style="normal" fill="#222" >0</text>
<line x1="281.2" y1="405.5" x2="454.5" y2="405.5" stroke="#333" stroke-width="1.2"/>
<line x1="454.5" y1="405.5" x2="454.5" y2="558.4" stroke="#333" stroke-width="1.3"/>
<line x1="281" y1="558.4" x2="455" y2="558.4" stroke="#333" stroke-width="1.2"/>
<line x1="320.4" y1="558.4" x2="320.4" y2="564.2" stroke="#333" stroke-width="1.2"/>
<line x1="353.6" y1="558.4" x2="353.6" y2="564.2" stroke="#333" stroke-width="1.2"/>
<line x1="388" y1="558.4" x2="388" y2="564.2" stroke="#333" stroke-width="1.2"/>
<line x1="422" y1="558.4" x2="422" y2="564.2" stroke="#333" stroke-width="1.2"/>
<text transform="translate(252.2 481) rotate(-90)" font-size="14.6" text-anchor="middle" fill="#222">Relative intensity</text>
<circle cx="303.7" cy="456" r="2.4" fill="#2a2a2a"/>
<circle cx="303.7" cy="465.2" r="2.4" fill="#2a2a2a"/>
<circle cx="303.7" cy="467" r="2.4" fill="#2a2a2a"/>
<circle cx="308" cy="474.4" r="2.4" fill="#2a2a2a"/>
<circle cx="303.7" cy="475.5" r="2.4" fill="#2a2a2a"/>
<circle cx="303.7" cy="478" r="2.4" fill="#2a2a2a"/>
<circle cx="303.7" cy="480.5" r="2.4" fill="#2a2a2a"/>
<circle cx="303.7" cy="483" r="2.4" fill="#2a2a2a"/>
<circle cx="302" cy="487.6" r="2.4" fill="#2a2a2a"/>
<circle cx="303.7" cy="490" r="2.4" fill="#2a2a2a"/>
<circle cx="303.7" cy="492.5" r="2.4" fill="#2a2a2a"/>
<circle cx="303.7" cy="496" r="2.4" fill="#2a2a2a"/>
<circle cx="308" cy="498.8" r="2.4" fill="#2a2a2a"/>
<circle cx="300.5" cy="502" r="2.4" fill="#2a2a2a"/>
<circle cx="309" cy="502" r="2.4" fill="#2a2a2a"/>
<circle cx="303.7" cy="504" r="2.4" fill="#2a2a2a"/>
<circle cx="303.7" cy="506" r="2.4" fill="#2a2a2a"/>
<circle cx="309" cy="509.4" r="2.4" fill="#2a2a2a"/>
<circle cx="302" cy="511.3" r="2.4" fill="#2a2a2a"/>
<circle cx="303.7" cy="514.6" r="2.4" fill="#2a2a2a"/>
<circle cx="303.7" cy="523.2" r="2.4" fill="#2a2a2a"/>
<circle cx="303.7" cy="527.8" r="2.4" fill="#2a2a2a"/>
<line x1="289.5" y1="499.2" x2="318" y2="499.2" stroke="#333" stroke-width="1.5"/>
<circle cx="337" cy="419" r="2.1" fill="none" stroke="#2a2a2a" stroke-width="1.2"/>
<circle cx="337" cy="446" r="2.1" fill="none" stroke="#2a2a2a" stroke-width="1.2"/>
<circle cx="337" cy="453" r="2.1" fill="none" stroke="#2a2a2a" stroke-width="1.2"/>
<circle cx="340.4" cy="457.4" r="2.1" fill="none" stroke="#2a2a2a" stroke-width="1.2"/>
<circle cx="334" cy="485.6" r="2.1" fill="none" stroke="#2a2a2a" stroke-width="1.2"/>
<circle cx="337.6" cy="485.6" r="2.1" fill="none" stroke="#2a2a2a" stroke-width="1.2"/>
<line x1="323" y1="456.8" x2="351.6" y2="456.8" stroke="#333" stroke-width="1.5"/>
<polygon points="367.6,438.1 373.6,438.1 370.6,443.2" fill="#2a2a2a"/>
<polygon points="364.0,445.20000000000005 370.0,445.20000000000005 367,450.3" fill="#2a2a2a"/>
<polygon points="369.5,445.20000000000005 375.5,445.20000000000005 372.5,450.3" fill="#2a2a2a"/>
<polygon points="367.6,448.6 373.6,448.6 370.6,453.7" fill="#2a2a2a"/>
<polygon points="367.6,452.1 373.6,452.1 370.6,457.2" fill="#2a2a2a"/>
<polygon points="367.6,455.1 373.6,455.1 370.6,460.2" fill="#2a2a2a"/>
<polygon points="367.6,458.1 373.6,458.1 370.6,463.2" fill="#2a2a2a"/>
<polygon points="365.0,460.1 371.0,460.1 368,465.2" fill="#2a2a2a"/>
<polygon points="370.0,460.6 376.0,460.6 373,465.7" fill="#2a2a2a"/>
<polygon points="366.0,463.1 372.0,463.1 369,468.2" fill="#2a2a2a"/>
<polygon points="371.0,463.6 377.0,463.6 374,468.7" fill="#2a2a2a"/>
<polygon points="368.0,465.6 374.0,465.6 371,470.7" fill="#2a2a2a"/>
<polygon points="372.0,467.1 378.0,467.1 375,472.2" fill="#2a2a2a"/>
<polygon points="365.0,467.6 371.0,467.6 368,472.7" fill="#2a2a2a"/>
<polygon points="369.0,468.6 375.0,468.6 372,473.7" fill="#2a2a2a"/>
<polygon points="371.5,469.1 377.5,469.1 374.5,474.2" fill="#2a2a2a"/>
<polygon points="367.6,474.6 373.6,474.6 370.6,479.7" fill="#2a2a2a"/>
<polygon points="367.6,477.6 373.6,477.6 370.6,482.7" fill="#2a2a2a"/>
<polygon points="367.6,480.6 373.6,480.6 370.6,485.7" fill="#2a2a2a"/>
<polygon points="366.0,484.6 372.0,484.6 369,489.7" fill="#2a2a2a"/>
<polygon points="371.0,486.1 377.0,486.1 374,491.2" fill="#2a2a2a"/>
<line x1="357" y1="464.6" x2="385" y2="464.6" stroke="#333" stroke-width="1.5"/>
<polygon points="402.09999999999997,427.08 407.3,427.08 404.7,422.66" fill="none" stroke="#2a2a2a" stroke-width="1.1"/>
<polygon points="399.0,439.78 404.20000000000005,439.78 401.6,435.36" fill="none" stroke="#2a2a2a" stroke-width="1.1"/>
<polygon points="402.09999999999997,443.58 407.3,443.58 404.7,439.16" fill="none" stroke="#2a2a2a" stroke-width="1.1"/>
<polygon points="405.9,443.58 411.1,443.58 408.5,439.16" fill="none" stroke="#2a2a2a" stroke-width="1.1"/>
<polygon points="402.09999999999997,449.08 407.3,449.08 404.7,444.66" fill="none" stroke="#2a2a2a" stroke-width="1.1"/>
<polygon points="402.09999999999997,456.68 407.3,456.68 404.7,452.26000000000005" fill="none" stroke="#2a2a2a" stroke-width="1.1"/>
<polygon points="402.09999999999997,465.08 407.3,465.08 404.7,460.66" fill="none" stroke="#2a2a2a" stroke-width="1.1"/>
<polygon points="409.4,465.08 414.6,465.08 412,460.66" fill="none" stroke="#2a2a2a" stroke-width="1.1"/>
<polygon points="399.4,472.08 404.6,472.08 402,467.66" fill="none" stroke="#2a2a2a" stroke-width="1.1"/>
<polygon points="405.4,472.08 410.6,472.08 408,467.66" fill="none" stroke="#2a2a2a" stroke-width="1.1"/>
<polygon points="398.9,476.68 404.1,476.68 401.5,472.26000000000005" fill="none" stroke="#2a2a2a" stroke-width="1.1"/>
<polygon points="402.4,476.68 407.6,476.68 405,472.26000000000005" fill="none" stroke="#2a2a2a" stroke-width="1.1"/>
<polygon points="406.4,476.68 411.6,476.68 409,472.26000000000005" fill="none" stroke="#2a2a2a" stroke-width="1.1"/>
<polygon points="402.09999999999997,479.78 407.3,479.78 404.7,475.36" fill="none" stroke="#2a2a2a" stroke-width="1.1"/>
<polygon points="395.4,483.08 400.6,483.08 398,478.66" fill="none" stroke="#2a2a2a" stroke-width="1.1"/>
<polygon points="402.09999999999997,486.68 407.3,486.68 404.7,482.26000000000005" fill="none" stroke="#2a2a2a" stroke-width="1.1"/>
<polygon points="402.09999999999997,481.58 407.3,481.58 404.7,477.16" fill="none" stroke="#2a2a2a" stroke-width="1.1"/>
<line x1="390.4" y1="472.3" x2="418.8" y2="472.3" stroke="#333" stroke-width="1.5"/>
<rect x="436.5" y="456" width="4" height="13" fill="#2a2a2a"/>
<rect x="436.5" y="475.4" width="4" height="8.4" fill="#2a2a2a"/>
<line x1="424.2" y1="467.7" x2="452.7" y2="467.7" stroke="#333" stroke-width="1.5"/>
<text transform="translate(297 576) rotate(-45)" font-size="14" text-anchor="end" fill="#222">Healthy</text>
<text transform="translate(318 576) rotate(-45)" font-size="14" text-anchor="end" fill="#222">control</text>
<text transform="translate(344 577) rotate(-45)" font-size="14" text-anchor="end" fill="#222">Stage 0</text>
<text transform="translate(377 580) rotate(-45)" font-size="14" text-anchor="end" fill="#222">Stage I</text>
<text transform="translate(412 580) rotate(-45)" font-size="14" text-anchor="end" fill="#222">Stage II</text>
<text transform="translate(444 577) rotate(-45)" font-size="14" text-anchor="end" fill="#222">Stage III</text>
<text x="0" y="0" font-size="21" font-weight="bold" fill="#111" transform="translate(0.8 643.8) scale(0.89 1)">D</text>
<line x1="45.0" y1="660.6" x2="45.0" y2="819" stroke="#333" stroke-width="1.2"/>
<line x1="40" y1="660.6" x2="45" y2="660.6" stroke="#333" stroke-width="1.2"/>
<line x1="40" y1="690" x2="45" y2="690" stroke="#333" stroke-width="1.2"/>
<line x1="40" y1="719.4" x2="45" y2="719.4" stroke="#333" stroke-width="1.2"/>
<line x1="40" y1="748.6" x2="45" y2="748.6" stroke="#333" stroke-width="1.2"/>
<line x1="40" y1="778" x2="45" y2="778" stroke="#333" stroke-width="1.2"/>
<line x1="40" y1="807.4" x2="45" y2="807.4" stroke="#333" stroke-width="1.2"/>
<text x="37" y="665.6" font-size="14" text-anchor="end" font-weight="normal" font-style="normal" fill="#222" >100</text>
<text x="37" y="695.0" font-size="14" text-anchor="end" font-weight="normal" font-style="normal" fill="#222" >80</text>
<text x="37" y="724.4" font-size="14" text-anchor="end" font-weight="normal" font-style="normal" fill="#222" >60</text>
<text x="37" y="753.6" font-size="14" text-anchor="end" font-weight="normal" font-style="normal" fill="#222" >40</text>
<text x="37" y="783.0" font-size="14" text-anchor="end" font-weight="normal" font-style="normal" fill="#222" >20</text>
<text x="37" y="812.4" font-size="14" text-anchor="end" font-weight="normal" font-style="normal" fill="#222" >0</text>
<line x1="45" y1="813.4" x2="212" y2="813.4" stroke="#333" stroke-width="1.2"/>
<line x1="78.4" y1="813.4" x2="78.4" y2="819" stroke="#333" stroke-width="1.2"/>
<line x1="112.2" y1="813.4" x2="112.2" y2="819" stroke="#333" stroke-width="1.2"/>
<line x1="145.8" y1="813.4" x2="145.8" y2="819" stroke="#333" stroke-width="1.2"/>
<line x1="179" y1="813.4" x2="179" y2="819" stroke="#333" stroke-width="1.2"/>
<line x1="212" y1="813.4" x2="212" y2="819" stroke="#333" stroke-width="1.2"/>
<text transform="translate(11 736.7) rotate(-90)" font-size="14.6" text-anchor="middle" fill="#222">Relative intensity</text>
<line x1="62" y1="749" x2="62" y2="763" stroke="#333" stroke-width="1.2"/>
<line x1="62" y1="786.6" x2="62" y2="795" stroke="#333" stroke-width="1.2"/>
<line x1="59" y1="749" x2="65" y2="749" stroke="#333" stroke-width="1.2"/>
<line x1="59" y1="795" x2="65" y2="795" stroke="#333" stroke-width="1.2"/>
<rect x="53" y="763" width="18" height="23.600000000000023" fill="#c2c2c2" stroke="#333" stroke-width="1.3"/>
<line x1="53" y1="777.6" x2="71" y2="777.6" stroke="#333" stroke-width="1.6"/>
<circle cx="62" cy="746" r="1.25" fill="#222"/>
<circle cx="62" cy="747.5" r="1.25" fill="#222"/>
<circle cx="62" cy="739" r="1.25" fill="#222"/>
<circle cx="62" cy="803.6" r="1.25" fill="#222"/>
<circle cx="62" cy="807.6" r="1.25" fill="#222"/>
<line x1="95.4" y1="709.6" x2="95.4" y2="729.4" stroke="#333" stroke-width="1.2"/>
<line x1="95.4" y1="756.4" x2="95.4" y2="763.6" stroke="#333" stroke-width="1.2"/>
<line x1="92.4" y1="709.6" x2="98.4" y2="709.6" stroke="#333" stroke-width="1.2"/>
<line x1="92.4" y1="763.6" x2="98.4" y2="763.6" stroke="#333" stroke-width="1.2"/>
<rect x="86.4" y="729.4" width="18.0" height="27.0" fill="#c2c2c2" stroke="#333" stroke-width="1.3"/>
<line x1="86.4" y1="740.4" x2="104.4" y2="740.4" stroke="#333" stroke-width="1.6"/>
<circle cx="95.4" cy="703" r="1.25" fill="#222"/>
<circle cx="95.4" cy="766.4" r="1.25" fill="#222"/>
<line x1="128.6" y1="735.6" x2="128.6" y2="745.6" stroke="#333" stroke-width="1.2"/>
<line x1="128.6" y1="762.4" x2="128.6" y2="769" stroke="#333" stroke-width="1.2"/>
<line x1="125.6" y1="735.6" x2="131.6" y2="735.6" stroke="#333" stroke-width="1.2"/>
<line x1="125.6" y1="769" x2="131.6" y2="769" stroke="#333" stroke-width="1.2"/>
<rect x="119.4" y="745.6" width="18.0" height="16.799999999999955" fill="#c2c2c2" stroke="#333" stroke-width="1.3"/>
<line x1="119.4" y1="754" x2="137.4" y2="754" stroke="#333" stroke-width="1.6"/>
<circle cx="128.6" cy="730.4" r="1.25" fill="#222"/>
<circle cx="128.6" cy="731.8" r="1.25" fill="#222"/>
<circle cx="128.6" cy="720.6" r="1.25" fill="#222"/>
<circle cx="128.6" cy="771" r="1.25" fill="#222"/>
<line x1="162.4" y1="717.6" x2="162.4" y2="732.4" stroke="#333" stroke-width="1.2"/>
<line x1="162.4" y1="759.4" x2="162.4" y2="764.4" stroke="#333" stroke-width="1.2"/>
<line x1="159.4" y1="717.6" x2="165.4" y2="717.6" stroke="#333" stroke-width="1.2"/>
<line x1="159.4" y1="764.4" x2="165.4" y2="764.4" stroke="#333" stroke-width="1.2"/>
<rect x="153.4" y="732.4" width="18.0" height="27.0" fill="#c2c2c2" stroke="#333" stroke-width="1.3"/>
<line x1="153.4" y1="746.4" x2="171.4" y2="746.4" stroke="#333" stroke-width="1.6"/>
<circle cx="162.4" cy="703" r="1.25" fill="#222"/>
<circle cx="162.4" cy="709.4" r="1.25" fill="#222"/>
<circle cx="162.4" cy="766" r="1.25" fill="#222"/>
<line x1="195.6" y1="731" x2="195.6" y2="745.6" stroke="#333" stroke-width="1.2"/>
<line x1="195.6" y1="762.4" x2="195.6" y2="769" stroke="#333" stroke-width="1.2"/>
<line x1="192.6" y1="731" x2="198.6" y2="731" stroke="#333" stroke-width="1.2"/>
<line x1="192.6" y1="769" x2="198.6" y2="769" stroke="#333" stroke-width="1.2"/>
<rect x="186.6" y="745.6" width="18.0" height="16.799999999999955" fill="#c2c2c2" stroke="#333" stroke-width="1.3"/>
<line x1="186.6" y1="756.6" x2="204.6" y2="756.6" stroke="#333" stroke-width="1.6"/>
<circle cx="195.6" cy="721" r="1.25" fill="#222"/>
<circle cx="195.6" cy="731" r="1.25" fill="#222"/>
<circle cx="195.6" cy="771" r="1.25" fill="#222"/>
<polyline points="62,730 62,672.4 159.6,672.4 159.6,697" fill="none" stroke="#333" stroke-width="1.2" stroke-linejoin="miter"/>
<polyline points="62,690 92.4,690 92.4,695.6" fill="none" stroke="#333" stroke-width="1.2" stroke-linejoin="miter"/>
<polyline points="98,695.6 98,690 128.4,690 128.4,712" fill="none" stroke="#333" stroke-width="1.2" stroke-linejoin="miter"/>
<polyline points="164.4,697 164.4,672.4 195.6,672.4 195.6,713" fill="none" stroke="#333" stroke-width="1.2" stroke-linejoin="miter"/>
<path d="M102.80,666.80L102.80,663.50M102.80,666.80L105.94,665.78M102.80,666.80L104.74,669.47M102.80,666.80L100.86,669.47M102.80,666.80L99.66,665.78" stroke="#222" stroke-width="1.5" fill="none" stroke-linecap="butt"/>
<path d="M111.00,666.80L111.00,663.50M111.00,666.80L114.14,665.78M111.00,666.80L112.94,669.47M111.00,666.80L109.06,669.47M111.00,666.80L107.86,665.78" stroke="#222" stroke-width="1.5" fill="none" stroke-linecap="butt"/>
<path d="M119.20,666.80L119.20,663.50M119.20,666.80L122.34,665.78M119.20,666.80L121.14,669.47M119.20,666.80L117.26,669.47M119.20,666.80L116.06,665.78" stroke="#222" stroke-width="1.5" fill="none" stroke-linecap="butt"/>
<path d="M69.30,683.50L69.30,680.20M69.30,683.50L72.44,682.48M69.30,683.50L71.24,686.17M69.30,683.50L67.36,686.17M69.30,683.50L66.16,682.48" stroke="#222" stroke-width="1.5" fill="none" stroke-linecap="butt"/>
<path d="M77.50,683.50L77.50,680.20M77.50,683.50L80.64,682.48M77.50,683.50L79.44,686.17M77.50,683.50L75.56,686.17M77.50,683.50L74.36,682.48" stroke="#222" stroke-width="1.5" fill="none" stroke-linecap="butt"/>
<path d="M85.70,683.50L85.70,680.20M85.70,683.50L88.84,682.48M85.70,683.50L87.64,686.17M85.70,683.50L83.76,686.17M85.70,683.50L82.56,682.48" stroke="#222" stroke-width="1.5" fill="none" stroke-linecap="butt"/>
<path d="M114.00,683.50L114.00,680.20M114.00,683.50L117.14,682.48M114.00,683.50L115.94,686.17M114.00,683.50L112.06,686.17M114.00,683.50L110.86,682.48" stroke="#222" stroke-width="1.5" fill="none" stroke-linecap="butt"/>
<path d="M181.00,666.60L181.00,663.30M181.00,666.60L184.14,665.58M181.00,666.60L182.94,669.27M181.00,666.60L179.06,669.27M181.00,666.60L177.86,665.58" stroke="#222" stroke-width="1.5" fill="none" stroke-linecap="butt"/>
<text transform="translate(55 832) rotate(-45)" font-size="14" text-anchor="end" fill="#222">Healthy</text>
<text transform="translate(76 832) rotate(-45)" font-size="14" text-anchor="end" fill="#222">control</text>
<text transform="translate(107 831) rotate(-45)" font-size="14" text-anchor="end" fill="#222">ER (−)</text>
<text transform="translate(140 831) rotate(-45)" font-size="14" text-anchor="end" fill="#222">ER (+)</text>
<text transform="translate(174 831) rotate(-45)" font-size="14" text-anchor="end" fill="#222">PR (−)</text>
<text transform="translate(207 831) rotate(-45)" font-size="14" text-anchor="end" fill="#222">PR (+)</text>
<text x="0" y="0" font-size="21" font-weight="bold" fill="#111" transform="translate(242.4 643.7) scale(0.89 1)">E</text>
<line x1="287.1" y1="654.6" x2="287.1" y2="813.3" stroke="#333" stroke-width="1.2"/>
<line x1="281.2" y1="659.6" x2="287.1" y2="659.6" stroke="#333" stroke-width="1.2"/>
<line x1="281.2" y1="689.3" x2="287.1" y2="689.3" stroke="#333" stroke-width="1.2"/>
<line x1="281.2" y1="719.1" x2="287.1" y2="719.1" stroke="#333" stroke-width="1.2"/>
<line x1="281.2" y1="748.5" x2="287.1" y2="748.5" stroke="#333" stroke-width="1.2"/>
<line x1="281.2" y1="778" x2="287.1" y2="778" stroke="#333" stroke-width="1.2"/>
<line x1="281.2" y1="810.3" x2="287.1" y2="810.3" stroke="#333" stroke-width="1.2"/>
<text x="279" y="664.6" font-size="14" text-anchor="end" font-weight="normal" font-style="normal" fill="#222" >100</text>
<text x="279" y="694.3" font-size="14" text-anchor="end" font-weight="normal" font-style="normal" fill="#222" >80</text>
<text x="279" y="724.1" font-size="14" text-anchor="end" font-weight="normal" font-style="normal" fill="#222" >60</text>
<text x="279" y="753.5" font-size="14" text-anchor="end" font-weight="normal" font-style="normal" fill="#222" >40</text>
<text x="279" y="783.0" font-size="14" text-anchor="end" font-weight="normal" font-style="normal" fill="#222" >20</text>
<text x="279" y="815.3" font-size="14" text-anchor="end" font-weight="normal" font-style="normal" fill="#222" >0</text>
<line x1="287.1" y1="654.6" x2="448.4" y2="654.6" stroke="#333" stroke-width="1.2"/>
<line x1="448.4" y1="654.6" x2="448.4" y2="813.3" stroke="#333" stroke-width="1.2"/>
<line x1="287.1" y1="813.3" x2="449" y2="813.3" stroke="#333" stroke-width="1.2"/>
<line x1="290" y1="813.3" x2="290" y2="819" stroke="#333" stroke-width="1.2"/>
<text x="290" y="836.2" font-size="14" text-anchor="middle" font-weight="normal" font-style="normal" fill="#222" >0</text>
<line x1="320.4" y1="813.3" x2="320.4" y2="819" stroke="#333" stroke-width="1.2"/>
<text x="320.4" y="836.2" font-size="14" text-anchor="middle" font-weight="normal" font-style="normal" fill="#222" >20</text>
<line x1="351" y1="813.3" x2="351" y2="819" stroke="#333" stroke-width="1.2"/>
<text x="351" y="836.2" font-size="14" text-anchor="middle" font-weight="normal" font-style="normal" fill="#222" >40</text>
<line x1="381.6" y1="813.3" x2="381.6" y2="819" stroke="#333" stroke-width="1.2"/>
<text x="381.6" y="836.2" font-size="14" text-anchor="middle" font-weight="normal" font-style="normal" fill="#222" >60</text>
<line x1="412" y1="813.3" x2="412" y2="819" stroke="#333" stroke-width="1.2"/>
<text x="412" y="836.2" font-size="14" text-anchor="middle" font-weight="normal" font-style="normal" fill="#222" >80</text>
<line x1="442.4" y1="813.3" x2="442.4" y2="819" stroke="#333" stroke-width="1.2"/>
<text x="442.4" y="836.2" font-size="14" text-anchor="middle" font-weight="normal" font-style="normal" fill="#222" >100</text>
<text transform="translate(252.6 737) rotate(-90)" font-size="14.6" text-anchor="middle" fill="#222">Sensitivity</text>
<text x="365.3" y="857.2" font-size="14.2" text-anchor="middle" font-weight="normal" font-style="normal" fill="#222" >100-Specificity</text>
<polyline points="290,810.3 290,774.4 295,774.4 295,743.6 300,743.6 300,741 305,741 305,721.6 310,719.4 315.6,719.4 315.6,710 320.6,710 320.6,699 325.6,699 325.6,688 335.6,688 335.6,674 340.4,674 340.4,668.6 345.6,668.6 345.6,660.5 442.5,660.5" fill="none" stroke="#2a2a2a" stroke-width="1.4" stroke-linejoin="miter"/>
<line x1="290" y1="810.3" x2="442.5" y2="660.5" stroke="#2a2a2a" stroke-width="1.3"/>
<text x="356.4" y="763.4" font-size="12.2" text-anchor="start" font-weight="normal" font-style="normal" fill="#222" >AUC: 0.875</text>
<text x="356.4" y="776.9" font-size="12.2" text-anchor="start" font-weight="normal" font-style="normal" fill="#222" >Sensitivity: 100</text>
<text x="356.4" y="791" font-size="12.2" text-anchor="start" font-weight="normal" font-style="normal" fill="#222" >Specificity: 63.3</text>
<text x="356.4" y="804.6" font-size="12.2" fill="#222"><tspan font-style="italic">P</tspan> &lt; 0.0001</text>
</svg></body></html>
